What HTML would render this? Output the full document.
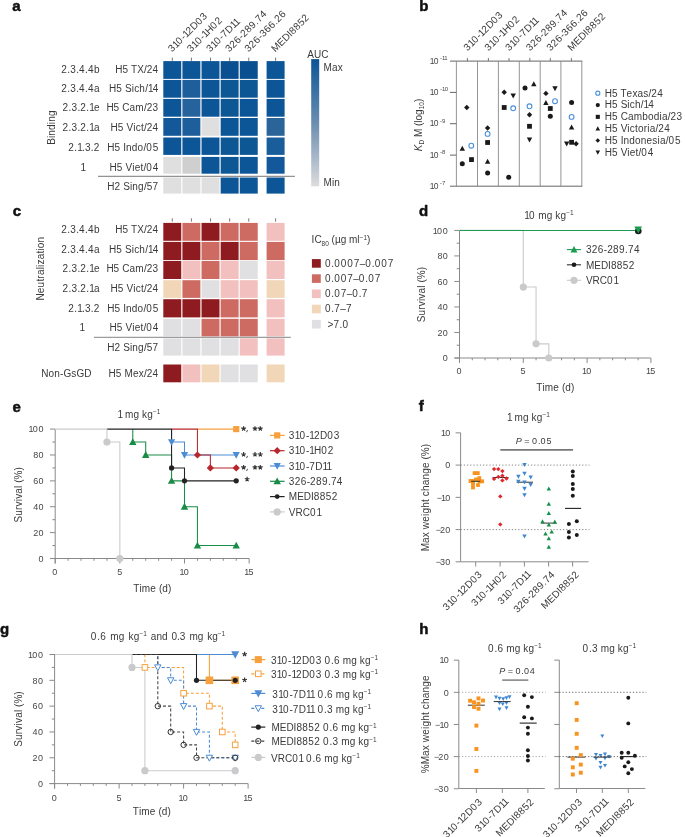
<!DOCTYPE html>
<html><head><meta charset="utf-8"><style>
html,body{margin:0;padding:0;background:#fff;}
svg{display:block;font-family:"Liberation Sans", sans-serif;will-change:transform;}
</style></head><body>
<svg width="685" height="837" viewBox="0 0 685 837">
<rect width="685" height="837" fill="#fff"/>
<text x="0" y="0" font-size="15" text-anchor="start" fill="#111" font-weight="bold" transform="translate(12.30 10.90)" stroke="#111" stroke-width="0.5" stroke-linejoin="round"><tspan letter-spacing="0.30">a</tspan></text>
<text x="0" y="0" font-size="10" text-anchor="start" fill="#3a3a3a" transform="translate(172.00 52.60) rotate(-45)"><tspan letter-spacing="0.40">3</tspan><tspan letter-spacing="-0.85">1</tspan><tspan letter-spacing="0.90">0</tspan>-<tspan letter-spacing="-0.85">1</tspan><tspan letter-spacing="0.40">2</tspan>D<tspan letter-spacing="0.90">0</tspan><tspan letter-spacing="0.40">3</tspan></text>
<line x1="172.30" y1="57.60" x2="172.30" y2="60.90" stroke="#555" stroke-width="0.8" stroke-linecap="butt"/>
<text x="0" y="0" font-size="10" text-anchor="start" fill="#3a3a3a" transform="translate(191.12 52.60) rotate(-45)"><tspan letter-spacing="0.40">3</tspan><tspan letter-spacing="-0.85">1</tspan><tspan letter-spacing="0.90">0</tspan>-<tspan letter-spacing="-0.85">1</tspan>H<tspan letter-spacing="0.90">0</tspan><tspan letter-spacing="0.40">2</tspan></text>
<line x1="191.42" y1="57.60" x2="191.42" y2="60.90" stroke="#555" stroke-width="0.8" stroke-linecap="butt"/>
<text x="0" y="0" font-size="10" text-anchor="start" fill="#3a3a3a" transform="translate(210.24 52.60) rotate(-45)"><tspan letter-spacing="0.40">3</tspan><tspan letter-spacing="-0.85">1</tspan><tspan letter-spacing="0.90">0</tspan>-<tspan letter-spacing="0.40">7</tspan>D<tspan letter-spacing="-0.85">11</tspan></text>
<line x1="210.54" y1="57.60" x2="210.54" y2="60.90" stroke="#555" stroke-width="0.8" stroke-linecap="butt"/>
<text x="0" y="0" font-size="10" text-anchor="start" fill="#3a3a3a" transform="translate(229.36 52.60) rotate(-45)"><tspan letter-spacing="0.40">326</tspan>-<tspan letter-spacing="0.40">289</tspan><tspan letter-spacing="0.20">.</tspan><tspan letter-spacing="0.40">74</tspan></text>
<line x1="229.66" y1="57.60" x2="229.66" y2="60.90" stroke="#555" stroke-width="0.8" stroke-linecap="butt"/>
<text x="0" y="0" font-size="10" text-anchor="start" fill="#3a3a3a" transform="translate(248.48 52.60) rotate(-45)"><tspan letter-spacing="0.40">326</tspan>-<tspan letter-spacing="0.40">366</tspan><tspan letter-spacing="0.20">.</tspan><tspan letter-spacing="0.40">26</tspan></text>
<line x1="248.78" y1="57.60" x2="248.78" y2="60.90" stroke="#555" stroke-width="0.8" stroke-linecap="butt"/>
<text x="0" y="0" font-size="10" text-anchor="start" fill="#3a3a3a" transform="translate(275.30 52.60) rotate(-45)">MEDI<tspan letter-spacing="0.40">8852</tspan></text>
<line x1="275.60" y1="57.60" x2="275.60" y2="60.90" stroke="#555" stroke-width="0.8" stroke-linecap="butt"/>
<rect x="163.30" y="61.10" width="17.95" height="17.80" fill="#0c5596"/>
<rect x="182.42" y="61.10" width="17.95" height="17.80" fill="#0c5596"/>
<rect x="201.54" y="61.10" width="17.95" height="17.80" fill="#0c5596"/>
<rect x="220.66" y="61.10" width="17.95" height="17.80" fill="#0a5090"/>
<rect x="239.78" y="61.10" width="17.95" height="17.80" fill="#0a5090"/>
<rect x="266.60" y="61.10" width="18.00" height="17.80" fill="#0c5596"/>
<rect x="163.30" y="79.90" width="17.95" height="17.80" fill="#0c5596"/>
<rect x="182.42" y="79.90" width="17.95" height="17.80" fill="#1d5e9b"/>
<rect x="201.54" y="79.90" width="17.95" height="17.80" fill="#0c5596"/>
<rect x="220.66" y="79.90" width="17.95" height="17.80" fill="#0e5795"/>
<rect x="239.78" y="79.90" width="17.95" height="17.80" fill="#0e5795"/>
<rect x="266.60" y="79.90" width="18.00" height="17.80" fill="#0c5596"/>
<rect x="163.30" y="98.90" width="17.95" height="17.80" fill="#0c5596"/>
<rect x="182.42" y="98.90" width="17.95" height="17.80" fill="#26629c"/>
<rect x="201.54" y="98.90" width="17.95" height="17.80" fill="#0c5596"/>
<rect x="220.66" y="98.90" width="17.95" height="17.80" fill="#0e5795"/>
<rect x="239.78" y="98.90" width="17.95" height="17.80" fill="#0c5596"/>
<rect x="266.60" y="98.90" width="18.00" height="17.80" fill="#0c5596"/>
<rect x="163.30" y="118.00" width="17.95" height="17.80" fill="#13599a"/>
<rect x="182.42" y="118.00" width="17.95" height="17.80" fill="#1d5e9b"/>
<rect x="201.54" y="118.00" width="17.95" height="17.80" fill="#dfdfe0"/>
<rect x="220.66" y="118.00" width="17.95" height="17.80" fill="#0c5596"/>
<rect x="239.78" y="118.00" width="17.95" height="17.80" fill="#0c5596"/>
<rect x="266.60" y="118.00" width="18.00" height="17.80" fill="#2a6499"/>
<rect x="163.30" y="137.50" width="17.95" height="17.40" fill="#0c5596"/>
<rect x="182.42" y="137.50" width="17.95" height="17.40" fill="#0c5596"/>
<rect x="201.54" y="137.50" width="17.95" height="17.40" fill="#0c5596"/>
<rect x="220.66" y="137.50" width="17.95" height="17.40" fill="#0e5795"/>
<rect x="239.78" y="137.50" width="17.95" height="17.40" fill="#0e5795"/>
<rect x="266.60" y="137.50" width="18.00" height="17.40" fill="#1a5d9b"/>
<rect x="163.30" y="156.90" width="17.95" height="16.80" fill="#dfdfe0"/>
<rect x="182.42" y="156.90" width="17.95" height="16.80" fill="#cfcfd0"/>
<rect x="201.54" y="156.90" width="17.95" height="16.80" fill="#0c5596"/>
<rect x="220.66" y="156.90" width="17.95" height="16.80" fill="#0e5795"/>
<rect x="239.78" y="156.90" width="17.95" height="16.80" fill="#0c5596"/>
<rect x="266.60" y="156.90" width="18.00" height="16.80" fill="#12589a"/>
<rect x="163.30" y="177.50" width="17.95" height="16.10" fill="#dfdfe0"/>
<rect x="182.42" y="177.50" width="17.95" height="16.10" fill="#dfdfe0"/>
<rect x="201.54" y="177.50" width="17.95" height="16.10" fill="#dfdfe0"/>
<rect x="220.66" y="177.50" width="17.95" height="16.10" fill="#0c5596"/>
<rect x="239.78" y="177.50" width="17.95" height="16.10" fill="#0c5596"/>
<rect x="266.60" y="177.50" width="18.00" height="16.10" fill="#0c5596"/>
<line x1="98.00" y1="176.30" x2="294.90" y2="176.30" stroke="#555" stroke-width="0.8" stroke-linecap="butt"/>
<text x="0" y="0" font-size="10" text-anchor="end" fill="#3a3a3a" transform="translate(158.60 72.70)">H<tspan letter-spacing="0.40">5</tspan> TX/<tspan letter-spacing="0.40">24</tspan></text>
<text x="0" y="0" font-size="10" text-anchor="end" fill="#3a3a3a" transform="translate(99.80 72.70)"><tspan letter-spacing="0.40">2</tspan><tspan letter-spacing="0.20">.</tspan><tspan letter-spacing="0.40">3</tspan><tspan letter-spacing="0.20">.</tspan><tspan letter-spacing="0.40">4</tspan><tspan letter-spacing="0.20">.</tspan><tspan letter-spacing="0.40">4</tspan><tspan letter-spacing="0.20">b</tspan></text>
<text x="0" y="0" font-size="10" text-anchor="end" fill="#3a3a3a" transform="translate(158.60 92.30)">H<tspan letter-spacing="0.40">5</tspan> S<tspan letter-spacing="0.20">ich</tspan>/<tspan letter-spacing="-0.85">1</tspan><tspan letter-spacing="0.40">4</tspan></text>
<text x="0" y="0" font-size="10" text-anchor="end" fill="#3a3a3a" transform="translate(99.80 92.30)"><tspan letter-spacing="0.40">2</tspan><tspan letter-spacing="0.20">.</tspan><tspan letter-spacing="0.40">3</tspan><tspan letter-spacing="0.20">.</tspan><tspan letter-spacing="0.40">4</tspan><tspan letter-spacing="0.20">.</tspan><tspan letter-spacing="0.40">4</tspan><tspan letter-spacing="0.20">a</tspan></text>
<text x="0" y="0" font-size="10" text-anchor="end" fill="#3a3a3a" transform="translate(158.60 111.30)">H<tspan letter-spacing="0.40">5</tspan> C<tspan letter-spacing="0.20">am</tspan>/<tspan letter-spacing="0.40">23</tspan></text>
<text x="0" y="0" font-size="10" text-anchor="end" fill="#3a3a3a" transform="translate(99.80 111.30)"><tspan letter-spacing="0.40">2</tspan><tspan letter-spacing="0.20">.</tspan><tspan letter-spacing="0.40">3</tspan><tspan letter-spacing="0.20">.</tspan><tspan letter-spacing="0.40">2</tspan><tspan letter-spacing="0.20">.</tspan><tspan letter-spacing="-0.85">1</tspan><tspan letter-spacing="0.20">e</tspan></text>
<text x="0" y="0" font-size="10" text-anchor="end" fill="#3a3a3a" transform="translate(158.60 131.30)">H<tspan letter-spacing="0.40">5</tspan> V<tspan letter-spacing="0.20">ict</tspan>/<tspan letter-spacing="0.40">24</tspan></text>
<text x="0" y="0" font-size="10" text-anchor="end" fill="#3a3a3a" transform="translate(99.80 131.30)"><tspan letter-spacing="0.40">2</tspan><tspan letter-spacing="0.20">.</tspan><tspan letter-spacing="0.40">3</tspan><tspan letter-spacing="0.20">.</tspan><tspan letter-spacing="0.40">2</tspan><tspan letter-spacing="0.20">.</tspan><tspan letter-spacing="-0.85">1</tspan><tspan letter-spacing="0.20">a</tspan></text>
<text x="0" y="0" font-size="10" text-anchor="end" fill="#3a3a3a" transform="translate(158.60 150.60)">H<tspan letter-spacing="0.40">5</tspan> I<tspan letter-spacing="0.20">ndo</tspan>/<tspan letter-spacing="0.90">0</tspan><tspan letter-spacing="0.40">5</tspan></text>
<text x="0" y="0" font-size="10" text-anchor="end" fill="#3a3a3a" transform="translate(99.80 150.60)"><tspan letter-spacing="0.40">2</tspan><tspan letter-spacing="0.20">.</tspan><tspan letter-spacing="-0.85">1</tspan><tspan letter-spacing="0.20">.</tspan><tspan letter-spacing="0.40">3</tspan><tspan letter-spacing="0.20">.</tspan><tspan letter-spacing="0.40">2</tspan></text>
<text x="0" y="0" font-size="10" text-anchor="end" fill="#3a3a3a" transform="translate(158.60 170.70)">H<tspan letter-spacing="0.40">5</tspan> V<tspan letter-spacing="0.20">iet</tspan>/<tspan letter-spacing="0.90">0</tspan><tspan letter-spacing="0.40">4</tspan></text>
<text x="0" y="0" font-size="10" text-anchor="middle" fill="#3a3a3a" transform="translate(82.80 170.70)"><tspan letter-spacing="-0.85">1</tspan></text>
<text x="0" y="0" font-size="10" text-anchor="end" fill="#3a3a3a" transform="translate(158.60 190.30)">H<tspan letter-spacing="0.40">2</tspan> S<tspan letter-spacing="0.20">ing</tspan>/<tspan letter-spacing="0.40">57</tspan></text>
<text x="0" y="0" font-size="10" text-anchor="middle" fill="#3a3a3a" transform="translate(55.00 127.50) rotate(-90)">B<tspan letter-spacing="0.20">inding</tspan></text>
<defs><linearGradient id="auc" x1="0" y1="0" x2="0" y2="1"><stop offset="0" stop-color="#0b5596"/><stop offset="0.5" stop-color="#6a8db0"/><stop offset="1" stop-color="#dcdcdc"/></linearGradient></defs>
<rect x="311.2" y="59.1" width="8" height="127.2" fill="url(#auc)"/>
<text x="0" y="0" font-size="10" text-anchor="start" fill="#3a3a3a" transform="translate(307.30 57.60)">AUC</text>
<text x="0" y="0" font-size="10" text-anchor="start" fill="#3a3a3a" transform="translate(323.60 71.20)">M<tspan letter-spacing="0.20">ax</tspan></text>
<text x="0" y="0" font-size="10" text-anchor="start" fill="#3a3a3a" transform="translate(323.60 186.30)">M<tspan letter-spacing="0.20">in</tspan></text>
<text x="0" y="0" font-size="15" text-anchor="start" fill="#111" font-weight="bold" transform="translate(419.20 10.80)" stroke="#111" stroke-width="0.5" stroke-linejoin="round"><tspan letter-spacing="0.30">b</tspan></text>
<text x="0" y="0" font-size="10" text-anchor="start" fill="#3a3a3a" transform="translate(467.60 51.40) rotate(-45)"><tspan letter-spacing="0.40">3</tspan><tspan letter-spacing="-0.85">1</tspan><tspan letter-spacing="0.90">0</tspan>-<tspan letter-spacing="-0.85">1</tspan><tspan letter-spacing="0.40">2</tspan>D<tspan letter-spacing="0.90">0</tspan><tspan letter-spacing="0.40">3</tspan></text>
<line x1="467.40" y1="58.00" x2="467.40" y2="61.10" stroke="#555" stroke-width="0.8" stroke-linecap="butt"/>
<text x="0" y="0" font-size="10" text-anchor="start" fill="#3a3a3a" transform="translate(488.60 51.40) rotate(-45)"><tspan letter-spacing="0.40">3</tspan><tspan letter-spacing="-0.85">1</tspan><tspan letter-spacing="0.90">0</tspan>-<tspan letter-spacing="-0.85">1</tspan>H<tspan letter-spacing="0.90">0</tspan><tspan letter-spacing="0.40">2</tspan></text>
<line x1="488.40" y1="58.00" x2="488.40" y2="61.10" stroke="#555" stroke-width="0.8" stroke-linecap="butt"/>
<text x="0" y="0" font-size="10" text-anchor="start" fill="#3a3a3a" transform="translate(509.20 51.40) rotate(-45)"><tspan letter-spacing="0.40">3</tspan><tspan letter-spacing="-0.85">1</tspan><tspan letter-spacing="0.90">0</tspan>-<tspan letter-spacing="0.40">7</tspan>D<tspan letter-spacing="-0.85">11</tspan></text>
<line x1="509.00" y1="58.00" x2="509.00" y2="61.10" stroke="#555" stroke-width="0.8" stroke-linecap="butt"/>
<text x="0" y="0" font-size="10" text-anchor="start" fill="#3a3a3a" transform="translate(530.00 51.40) rotate(-45)"><tspan letter-spacing="0.40">326</tspan>-<tspan letter-spacing="0.40">289</tspan><tspan letter-spacing="0.20">.</tspan><tspan letter-spacing="0.40">74</tspan></text>
<line x1="529.80" y1="58.00" x2="529.80" y2="61.10" stroke="#555" stroke-width="0.8" stroke-linecap="butt"/>
<text x="0" y="0" font-size="10" text-anchor="start" fill="#3a3a3a" transform="translate(550.50 51.40) rotate(-45)"><tspan letter-spacing="0.40">326</tspan>-<tspan letter-spacing="0.40">366</tspan><tspan letter-spacing="0.20">.</tspan><tspan letter-spacing="0.40">26</tspan></text>
<line x1="550.30" y1="58.00" x2="550.30" y2="61.10" stroke="#555" stroke-width="0.8" stroke-linecap="butt"/>
<text x="0" y="0" font-size="10" text-anchor="start" fill="#3a3a3a" transform="translate(571.60 51.40) rotate(-45)">MEDI<tspan letter-spacing="0.40">8852</tspan></text>
<line x1="571.40" y1="58.00" x2="571.40" y2="61.10" stroke="#555" stroke-width="0.8" stroke-linecap="butt"/>
<line x1="450.00" y1="61.10" x2="582.30" y2="61.10" stroke="#666" stroke-width="1" stroke-linecap="butt"/>
<line x1="450.00" y1="186.20" x2="582.30" y2="186.20" stroke="#666" stroke-width="1" stroke-linecap="butt"/>
<line x1="456.40" y1="61.10" x2="456.40" y2="186.20" stroke="#888" stroke-width="0.9" stroke-linecap="butt"/>
<line x1="477.50" y1="61.10" x2="477.50" y2="186.20" stroke="#888" stroke-width="0.9" stroke-linecap="butt"/>
<line x1="498.40" y1="61.10" x2="498.40" y2="186.20" stroke="#888" stroke-width="0.9" stroke-linecap="butt"/>
<line x1="519.30" y1="61.10" x2="519.30" y2="186.20" stroke="#888" stroke-width="0.9" stroke-linecap="butt"/>
<line x1="540.20" y1="61.10" x2="540.20" y2="186.20" stroke="#888" stroke-width="0.9" stroke-linecap="butt"/>
<line x1="560.90" y1="61.10" x2="560.90" y2="186.20" stroke="#888" stroke-width="0.9" stroke-linecap="butt"/>
<line x1="581.80" y1="61.10" x2="581.80" y2="186.20" stroke="#888" stroke-width="0.9" stroke-linecap="butt"/>
<line x1="450.00" y1="92.40" x2="456.40" y2="92.40" stroke="#666" stroke-width="1" stroke-linecap="butt"/>
<line x1="450.00" y1="123.70" x2="456.40" y2="123.70" stroke="#666" stroke-width="1" stroke-linecap="butt"/>
<line x1="450.00" y1="155.10" x2="456.40" y2="155.10" stroke="#666" stroke-width="1" stroke-linecap="butt"/>
<text x="0" y="0" font-size="8.5" text-anchor="end" fill="#474747" transform="translate(439.30 63.60)"><tspan letter-spacing="-0.72">1</tspan><tspan letter-spacing="0.77">0</tspan></text>
<text x="0" y="0" font-size="6" text-anchor="start" fill="#474747" transform="translate(439.90 60.10)">-<tspan letter-spacing="-0.51">11</tspan></text>
<text x="0" y="0" font-size="8.5" text-anchor="end" fill="#474747" transform="translate(439.30 94.90)"><tspan letter-spacing="-0.72">1</tspan><tspan letter-spacing="0.77">0</tspan></text>
<text x="0" y="0" font-size="6" text-anchor="start" fill="#474747" transform="translate(439.90 91.40)">-<tspan letter-spacing="-0.51">1</tspan><tspan letter-spacing="0.54">0</tspan></text>
<text x="0" y="0" font-size="8.5" text-anchor="end" fill="#474747" transform="translate(439.30 126.20)"><tspan letter-spacing="-0.72">1</tspan><tspan letter-spacing="0.77">0</tspan></text>
<text x="0" y="0" font-size="6" text-anchor="start" fill="#474747" transform="translate(439.90 122.70)">-<tspan letter-spacing="0.24">9</tspan></text>
<text x="0" y="0" font-size="8.5" text-anchor="end" fill="#474747" transform="translate(439.30 157.60)"><tspan letter-spacing="-0.72">1</tspan><tspan letter-spacing="0.77">0</tspan></text>
<text x="0" y="0" font-size="6" text-anchor="start" fill="#474747" transform="translate(439.90 154.10)">-<tspan letter-spacing="0.24">8</tspan></text>
<text x="0" y="0" font-size="8.5" text-anchor="end" fill="#474747" transform="translate(439.30 188.70)"><tspan letter-spacing="-0.72">1</tspan><tspan letter-spacing="0.77">0</tspan></text>
<text x="0" y="0" font-size="6" text-anchor="start" fill="#474747" transform="translate(439.90 185.20)">-<tspan letter-spacing="0.24">7</tspan></text>
<text x="0" y="0" font-size="10" text-anchor="middle" fill="#3a3a3a" transform="translate(422.30 125.00) rotate(-90)"><tspan font-style="italic">K</tspan><tspan font-size="6.5" dy="2">D</tspan><tspan dy="-2"> M (log</tspan><tspan font-size="6.5" dy="2">10</tspan><tspan dy="-2">)</tspan></text>
<polygon points="466.80,104.80 469.50,107.50 466.80,110.20 464.10,107.50" fill="#1a1a1a"/>
<polygon points="462.30,145.76 465.00,150.76 459.60,150.76" fill="#1a1a1a"/>
<circle cx="471.30" cy="145.70" r="2.40" fill="none" stroke="#4a90d9" stroke-width="1.1"/>
<circle cx="462.30" cy="163.70" r="2.50" fill="#1a1a1a"/>
<rect x="469.10" y="157.20" width="4.80" height="4.80" fill="#1a1a1a"/>
<polygon points="487.60,125.30 490.30,128.00 487.60,130.70 484.90,128.00" fill="#1a1a1a"/>
<circle cx="487.60" cy="133.90" r="2.40" fill="none" stroke="#4a90d9" stroke-width="1.1"/>
<rect x="485.20" y="140.10" width="4.80" height="4.80" fill="#1a1a1a"/>
<polygon points="487.60,158.66 490.30,163.66 484.90,163.66" fill="#1a1a1a"/>
<circle cx="487.60" cy="172.90" r="2.50" fill="#1a1a1a"/>
<polygon points="504.20,89.50 506.90,92.20 504.20,94.90 501.50,92.20" fill="#1a1a1a"/>
<polygon points="510.50,93.54 515.90,93.54 513.20,98.53" fill="#1a1a1a"/>
<rect x="501.80" y="105.10" width="4.80" height="4.80" fill="#1a1a1a"/>
<circle cx="513.20" cy="108.30" r="2.40" fill="none" stroke="#4a90d9" stroke-width="1.1"/>
<circle cx="508.70" cy="177.20" r="2.50" fill="#1a1a1a"/>
<circle cx="525.00" cy="88.10" r="2.50" fill="#1a1a1a"/>
<polygon points="533.80,81.37 536.50,86.36 531.10,86.36" fill="#1a1a1a"/>
<circle cx="529.50" cy="106.30" r="2.40" fill="none" stroke="#4a90d9" stroke-width="1.1"/>
<polygon points="529.50,112.00 532.20,114.70 529.50,117.40 526.80,114.70" fill="#1a1a1a"/>
<rect x="527.10" y="123.90" width="4.80" height="4.80" fill="#1a1a1a"/>
<polygon points="526.80,137.44 532.20,137.44 529.50,142.44" fill="#1a1a1a"/>
<polygon points="545.90,90.70 548.60,93.40 545.90,96.10 543.20,93.40" fill="#1a1a1a"/>
<polygon points="552.30,86.14 557.70,86.14 555.00,91.13" fill="#1a1a1a"/>
<polygon points="545.90,99.97 548.60,104.96 543.20,104.96" fill="#1a1a1a"/>
<circle cx="555.00" cy="101.20" r="2.40" fill="none" stroke="#4a90d9" stroke-width="1.1"/>
<rect x="547.90" y="106.10" width="4.80" height="4.80" fill="#1a1a1a"/>
<circle cx="550.30" cy="116.30" r="2.50" fill="#1a1a1a"/>
<circle cx="571.60" cy="102.60" r="2.50" fill="#1a1a1a"/>
<circle cx="571.60" cy="116.90" r="2.40" fill="none" stroke="#4a90d9" stroke-width="1.1"/>
<polygon points="571.60,124.47 574.30,129.46 568.90,129.46" fill="#1a1a1a"/>
<polygon points="564.00,141.54 569.40,141.54 566.70,146.53" fill="#1a1a1a"/>
<polygon points="576.10,141.00 578.80,143.70 576.10,146.40 573.40,143.70" fill="#1a1a1a"/>
<rect x="569.20" y="139.90" width="4.80" height="4.80" fill="#1a1a1a"/>
<circle cx="597.80" cy="93.20" r="2.04" fill="none" stroke="#4a90d9" stroke-width="1.1"/>
<text x="0" y="0" font-size="10" text-anchor="start" fill="#3a3a3a" transform="translate(604.70 96.50)">H<tspan letter-spacing="0.40">5</tspan> T<tspan letter-spacing="0.20">exas</tspan>/<tspan letter-spacing="0.40">24</tspan></text>
<circle cx="597.80" cy="105.02" r="2.12" fill="#1a1a1a"/>
<text x="0" y="0" font-size="10" text-anchor="start" fill="#3a3a3a" transform="translate(604.70 108.32)">H<tspan letter-spacing="0.40">5</tspan> S<tspan letter-spacing="0.20">ich</tspan>/<tspan letter-spacing="-0.85">1</tspan><tspan letter-spacing="0.40">4</tspan></text>
<rect x="595.76" y="114.80" width="4.08" height="4.08" fill="#1a1a1a"/>
<text x="0" y="0" font-size="10" text-anchor="start" fill="#3a3a3a" transform="translate(604.70 120.14)">H<tspan letter-spacing="0.40">5</tspan> C<tspan letter-spacing="0.20">ambodia</tspan>/<tspan letter-spacing="0.40">23</tspan></text>
<polygon points="597.80,126.25 600.09,130.50 595.50,130.50" fill="#1a1a1a"/>
<text x="0" y="0" font-size="10" text-anchor="start" fill="#3a3a3a" transform="translate(604.70 131.96)">H<tspan letter-spacing="0.40">5</tspan> V<tspan letter-spacing="0.20">ictoria</tspan>/<tspan letter-spacing="0.40">24</tspan></text>
<polygon points="597.80,138.19 600.09,140.48 597.80,142.77 595.50,140.48" fill="#1a1a1a"/>
<text x="0" y="0" font-size="10" text-anchor="start" fill="#3a3a3a" transform="translate(604.70 143.78)">H<tspan letter-spacing="0.40">5</tspan> I<tspan letter-spacing="0.20">ndonesia</tspan>/<tspan letter-spacing="0.90">0</tspan><tspan letter-spacing="0.40">5</tspan></text>
<polygon points="595.50,150.46 600.09,150.46 597.80,154.71" fill="#1a1a1a"/>
<text x="0" y="0" font-size="10" text-anchor="start" fill="#3a3a3a" transform="translate(604.70 155.60)">H<tspan letter-spacing="0.40">5</tspan> V<tspan letter-spacing="0.20">iet</tspan>/<tspan letter-spacing="0.90">0</tspan><tspan letter-spacing="0.40">4</tspan></text>
<text x="0" y="0" font-size="15" text-anchor="start" fill="#111" font-weight="bold" transform="translate(12.70 216.10)" stroke="#111" stroke-width="0.5" stroke-linejoin="round"><tspan letter-spacing="0.30">c</tspan></text>
<line x1="172.30" y1="218.30" x2="172.30" y2="221.60" stroke="#555" stroke-width="0.8" stroke-linecap="butt"/>
<line x1="191.42" y1="218.30" x2="191.42" y2="221.60" stroke="#555" stroke-width="0.8" stroke-linecap="butt"/>
<line x1="210.54" y1="218.30" x2="210.54" y2="221.60" stroke="#555" stroke-width="0.8" stroke-linecap="butt"/>
<line x1="229.66" y1="218.30" x2="229.66" y2="221.60" stroke="#555" stroke-width="0.8" stroke-linecap="butt"/>
<line x1="248.78" y1="218.30" x2="248.78" y2="221.60" stroke="#555" stroke-width="0.8" stroke-linecap="butt"/>
<line x1="275.60" y1="218.30" x2="275.60" y2="221.60" stroke="#555" stroke-width="0.8" stroke-linecap="butt"/>
<rect x="163.30" y="222.90" width="17.95" height="17.90" fill="#8e1b1f"/>
<rect x="182.42" y="222.90" width="17.95" height="17.90" fill="#cd6b63"/>
<rect x="201.54" y="222.90" width="17.95" height="17.90" fill="#8e1b1f"/>
<rect x="220.66" y="222.90" width="17.95" height="17.90" fill="#cd6b63"/>
<rect x="239.78" y="222.90" width="17.95" height="17.90" fill="#cd6b63"/>
<rect x="266.60" y="222.90" width="18.00" height="17.90" fill="#f2c0be"/>
<rect x="163.30" y="241.90" width="17.95" height="18.20" fill="#8e1b1f"/>
<rect x="182.42" y="241.90" width="17.95" height="18.20" fill="#8e1b1f"/>
<rect x="201.54" y="241.90" width="17.95" height="18.20" fill="#cd6b63"/>
<rect x="220.66" y="241.90" width="17.95" height="18.20" fill="#8e1b1f"/>
<rect x="239.78" y="241.90" width="17.95" height="18.20" fill="#cd6b63"/>
<rect x="266.60" y="241.90" width="18.00" height="18.20" fill="#cd6b63"/>
<rect x="163.30" y="261.00" width="17.95" height="18.00" fill="#8e1b1f"/>
<rect x="182.42" y="261.00" width="17.95" height="18.00" fill="#f2c0be"/>
<rect x="201.54" y="261.00" width="17.95" height="18.00" fill="#cd6b63"/>
<rect x="220.66" y="261.00" width="17.95" height="18.00" fill="#f2c0be"/>
<rect x="239.78" y="261.00" width="17.95" height="18.00" fill="#e0e0e2"/>
<rect x="266.60" y="261.00" width="18.00" height="18.00" fill="#f2c0be"/>
<rect x="163.30" y="280.20" width="17.95" height="17.70" fill="#f1d6b7"/>
<rect x="182.42" y="280.20" width="17.95" height="17.70" fill="#cd6b63"/>
<rect x="201.54" y="280.20" width="17.95" height="17.70" fill="#e0e0e2"/>
<rect x="220.66" y="280.20" width="17.95" height="17.70" fill="#f2c0be"/>
<rect x="239.78" y="280.20" width="17.95" height="17.70" fill="#f2c0be"/>
<rect x="266.60" y="280.20" width="18.00" height="17.70" fill="#f1d6b7"/>
<rect x="163.30" y="299.20" width="17.95" height="18.20" fill="#8e1b1f"/>
<rect x="182.42" y="299.20" width="17.95" height="18.20" fill="#8e1b1f"/>
<rect x="201.54" y="299.20" width="17.95" height="18.20" fill="#8e1b1f"/>
<rect x="220.66" y="299.20" width="17.95" height="18.20" fill="#cd6b63"/>
<rect x="239.78" y="299.20" width="17.95" height="18.20" fill="#cd6b63"/>
<rect x="266.60" y="299.20" width="18.00" height="18.20" fill="#f2c0be"/>
<rect x="163.30" y="318.80" width="17.95" height="17.60" fill="#e0e0e2"/>
<rect x="182.42" y="318.80" width="17.95" height="17.60" fill="#e0e0e2"/>
<rect x="201.54" y="318.80" width="17.95" height="17.60" fill="#cd6b63"/>
<rect x="220.66" y="318.80" width="17.95" height="17.60" fill="#cd6b63"/>
<rect x="239.78" y="318.80" width="17.95" height="17.60" fill="#cd6b63"/>
<rect x="266.60" y="318.80" width="18.00" height="17.60" fill="#f2c0be"/>
<rect x="163.30" y="338.30" width="17.95" height="17.30" fill="#e0e0e2"/>
<rect x="182.42" y="338.30" width="17.95" height="17.30" fill="#e0e0e2"/>
<rect x="201.54" y="338.30" width="17.95" height="17.30" fill="#e0e0e2"/>
<rect x="220.66" y="338.30" width="17.95" height="17.30" fill="#e0e0e2"/>
<rect x="239.78" y="338.30" width="17.95" height="17.30" fill="#f2c0be"/>
<rect x="266.60" y="338.30" width="18.00" height="17.30" fill="#f2c0be"/>
<rect x="163.30" y="364.50" width="17.95" height="17.80" fill="#8e1b1f"/>
<rect x="182.42" y="364.50" width="17.95" height="17.80" fill="#f2c0be"/>
<rect x="201.54" y="364.50" width="17.95" height="17.80" fill="#f1d6b7"/>
<rect x="220.66" y="364.50" width="17.95" height="17.80" fill="#e0e0e2"/>
<rect x="239.78" y="364.50" width="17.95" height="17.80" fill="#e0e0e2"/>
<rect x="266.60" y="364.50" width="18.00" height="17.80" fill="#f1d6b7"/>
<line x1="94.00" y1="337.30" x2="290.80" y2="337.30" stroke="#666" stroke-width="0.8" stroke-linecap="butt"/>
<text x="0" y="0" font-size="10" text-anchor="end" fill="#3a3a3a" transform="translate(158.60 232.80)">H<tspan letter-spacing="0.40">5</tspan> TX/<tspan letter-spacing="0.40">24</tspan></text>
<text x="0" y="0" font-size="10" text-anchor="end" fill="#3a3a3a" transform="translate(99.80 232.80)"><tspan letter-spacing="0.40">2</tspan><tspan letter-spacing="0.20">.</tspan><tspan letter-spacing="0.40">3</tspan><tspan letter-spacing="0.20">.</tspan><tspan letter-spacing="0.40">4</tspan><tspan letter-spacing="0.20">.</tspan><tspan letter-spacing="0.40">4</tspan><tspan letter-spacing="0.20">b</tspan></text>
<text x="0" y="0" font-size="10" text-anchor="end" fill="#3a3a3a" transform="translate(158.60 252.50)">H<tspan letter-spacing="0.40">5</tspan> S<tspan letter-spacing="0.20">ich</tspan>/<tspan letter-spacing="-0.85">1</tspan><tspan letter-spacing="0.40">4</tspan></text>
<text x="0" y="0" font-size="10" text-anchor="end" fill="#3a3a3a" transform="translate(99.80 252.50)"><tspan letter-spacing="0.40">2</tspan><tspan letter-spacing="0.20">.</tspan><tspan letter-spacing="0.40">3</tspan><tspan letter-spacing="0.20">.</tspan><tspan letter-spacing="0.40">4</tspan><tspan letter-spacing="0.20">.</tspan><tspan letter-spacing="0.40">4</tspan><tspan letter-spacing="0.20">a</tspan></text>
<text x="0" y="0" font-size="10" text-anchor="end" fill="#3a3a3a" transform="translate(158.60 272.40)">H<tspan letter-spacing="0.40">5</tspan> C<tspan letter-spacing="0.20">am</tspan>/<tspan letter-spacing="0.40">23</tspan></text>
<text x="0" y="0" font-size="10" text-anchor="end" fill="#3a3a3a" transform="translate(99.80 272.40)"><tspan letter-spacing="0.40">2</tspan><tspan letter-spacing="0.20">.</tspan><tspan letter-spacing="0.40">3</tspan><tspan letter-spacing="0.20">.</tspan><tspan letter-spacing="0.40">2</tspan><tspan letter-spacing="0.20">.</tspan><tspan letter-spacing="-0.85">1</tspan><tspan letter-spacing="0.20">e</tspan></text>
<text x="0" y="0" font-size="10" text-anchor="end" fill="#3a3a3a" transform="translate(158.60 291.80)">H<tspan letter-spacing="0.40">5</tspan> V<tspan letter-spacing="0.20">ict</tspan>/<tspan letter-spacing="0.40">24</tspan></text>
<text x="0" y="0" font-size="10" text-anchor="end" fill="#3a3a3a" transform="translate(99.80 291.80)"><tspan letter-spacing="0.40">2</tspan><tspan letter-spacing="0.20">.</tspan><tspan letter-spacing="0.40">3</tspan><tspan letter-spacing="0.20">.</tspan><tspan letter-spacing="0.40">2</tspan><tspan letter-spacing="0.20">.</tspan><tspan letter-spacing="-0.85">1</tspan><tspan letter-spacing="0.20">a</tspan></text>
<text x="0" y="0" font-size="10" text-anchor="end" fill="#3a3a3a" transform="translate(158.60 311.50)">H<tspan letter-spacing="0.40">5</tspan> I<tspan letter-spacing="0.20">ndo</tspan>/<tspan letter-spacing="0.90">0</tspan><tspan letter-spacing="0.40">5</tspan></text>
<text x="0" y="0" font-size="10" text-anchor="end" fill="#3a3a3a" transform="translate(99.80 311.50)"><tspan letter-spacing="0.40">2</tspan><tspan letter-spacing="0.20">.</tspan><tspan letter-spacing="-0.85">1</tspan><tspan letter-spacing="0.20">.</tspan><tspan letter-spacing="0.40">3</tspan><tspan letter-spacing="0.20">.</tspan><tspan letter-spacing="0.40">2</tspan></text>
<text x="0" y="0" font-size="10" text-anchor="end" fill="#3a3a3a" transform="translate(158.60 331.00)">H<tspan letter-spacing="0.40">5</tspan> V<tspan letter-spacing="0.20">iet</tspan>/<tspan letter-spacing="0.90">0</tspan><tspan letter-spacing="0.40">4</tspan></text>
<text x="0" y="0" font-size="10" text-anchor="middle" fill="#3a3a3a" transform="translate(81.80 331.00)"><tspan letter-spacing="-0.85">1</tspan></text>
<text x="0" y="0" font-size="10" text-anchor="end" fill="#3a3a3a" transform="translate(158.60 350.60)">H<tspan letter-spacing="0.40">2</tspan> S<tspan letter-spacing="0.20">ing</tspan>/<tspan letter-spacing="0.40">57</tspan></text>
<text x="0" y="0" font-size="10" text-anchor="end" fill="#3a3a3a" transform="translate(158.60 377.20)">H<tspan letter-spacing="0.40">5</tspan> M<tspan letter-spacing="0.20">ex</tspan>/<tspan letter-spacing="0.40">24</tspan></text>
<text x="0" y="0" font-size="10" text-anchor="end" fill="#3a3a3a" transform="translate(91.40 377.20)">N<tspan letter-spacing="0.20">on</tspan>-G<tspan letter-spacing="0.20">s</tspan>GD</text>
<text x="0" y="0" font-size="10" text-anchor="middle" fill="#3a3a3a" transform="translate(44.00 268.50) rotate(-90)">N<tspan letter-spacing="0.20">eutralization</tspan></text>
<text x="0" y="0" font-size="10" text-anchor="start" fill="#3a3a3a" transform="translate(311.60 243.40)">IC<tspan font-size="6.5" dy="2.2">80</tspan><tspan dy="-2.2"> (µg ml</tspan><tspan dy="-3.8" font-size="6.5">−1</tspan><tspan dy="3.8">)</tspan></text>
<rect x="311.90" y="259.10" width="8.90" height="8.60" fill="#8e1b1f"/>
<text x="0" y="0" font-size="10" text-anchor="start" fill="#3a3a3a" transform="translate(324.90 266.70)"><tspan letter-spacing="0.90">0</tspan><tspan letter-spacing="0.20">.</tspan><tspan letter-spacing="0.90">000</tspan><tspan letter-spacing="0.40">7</tspan>–<tspan letter-spacing="0.90">0</tspan><tspan letter-spacing="0.20">.</tspan><tspan letter-spacing="0.90">00</tspan><tspan letter-spacing="0.40">7</tspan></text>
<rect x="311.90" y="274.30" width="8.90" height="8.60" fill="#cd6b63"/>
<text x="0" y="0" font-size="10" text-anchor="start" fill="#3a3a3a" transform="translate(324.90 281.90)"><tspan letter-spacing="0.90">0</tspan><tspan letter-spacing="0.20">.</tspan><tspan letter-spacing="0.90">00</tspan><tspan letter-spacing="0.40">7</tspan>–<tspan letter-spacing="0.90">0</tspan><tspan letter-spacing="0.20">.</tspan><tspan letter-spacing="0.90">0</tspan><tspan letter-spacing="0.40">7</tspan></text>
<rect x="311.90" y="289.50" width="8.90" height="8.60" fill="#f2c0be"/>
<text x="0" y="0" font-size="10" text-anchor="start" fill="#3a3a3a" transform="translate(324.90 297.10)"><tspan letter-spacing="0.90">0</tspan><tspan letter-spacing="0.20">.</tspan><tspan letter-spacing="0.90">0</tspan><tspan letter-spacing="0.40">7</tspan>–<tspan letter-spacing="0.90">0</tspan><tspan letter-spacing="0.20">.</tspan><tspan letter-spacing="0.40">7</tspan></text>
<rect x="311.90" y="304.70" width="8.90" height="8.60" fill="#f1d6b7"/>
<text x="0" y="0" font-size="10" text-anchor="start" fill="#3a3a3a" transform="translate(324.90 312.30)"><tspan letter-spacing="0.90">0</tspan><tspan letter-spacing="0.20">.</tspan><tspan letter-spacing="0.40">7</tspan>–<tspan letter-spacing="0.40">7</tspan></text>
<rect x="311.90" y="319.90" width="8.90" height="8.60" fill="#e0e0e2"/>
<text x="0" y="0" font-size="10" text-anchor="start" fill="#3a3a3a" transform="translate(327.60 327.50)">&gt;<tspan letter-spacing="0.40">7</tspan><tspan letter-spacing="0.20">.</tspan><tspan letter-spacing="0.90">0</tspan></text>
<text x="0" y="0" font-size="15" text-anchor="start" fill="#111" font-weight="bold" transform="translate(419.10 215.90)" stroke="#111" stroke-width="0.5" stroke-linejoin="round"><tspan letter-spacing="0.30">d</tspan></text>
<text x="0" y="0" font-size="10" text-anchor="middle" fill="#3a3a3a" transform="translate(549.00 218.50)"><tspan letter-spacing="-0.85">1</tspan><tspan letter-spacing="0.90">0</tspan> <tspan letter-spacing="0.20">mg</tspan> <tspan letter-spacing="0.20">kg</tspan><tspan dy="-3.8" font-size="6.5">−1</tspan></text>
<line x1="459.50" y1="230.40" x2="459.50" y2="363.00" stroke="#8a8a8a" stroke-width="1" stroke-linecap="butt"/>
<line x1="454.50" y1="358.00" x2="650.90" y2="358.00" stroke="#8a8a8a" stroke-width="1" stroke-linecap="butt"/>
<line x1="454.30" y1="358.00" x2="459.50" y2="358.00" stroke="#8a8a8a" stroke-width="1" stroke-linecap="butt"/>
<text x="0" y="0" font-size="9.0" text-anchor="end" fill="#474747" transform="translate(448.60 361.20)"><tspan letter-spacing="0.81">0</tspan></text>
<line x1="456.70" y1="345.24" x2="459.50" y2="345.24" stroke="#8a8a8a" stroke-width="1" stroke-linecap="butt"/>
<line x1="454.30" y1="332.48" x2="459.50" y2="332.48" stroke="#8a8a8a" stroke-width="1" stroke-linecap="butt"/>
<text x="0" y="0" font-size="9.0" text-anchor="end" fill="#474747" transform="translate(448.60 335.68)"><tspan letter-spacing="0.36">2</tspan><tspan letter-spacing="0.81">0</tspan></text>
<line x1="456.70" y1="319.72" x2="459.50" y2="319.72" stroke="#8a8a8a" stroke-width="1" stroke-linecap="butt"/>
<line x1="454.30" y1="306.96" x2="459.50" y2="306.96" stroke="#8a8a8a" stroke-width="1" stroke-linecap="butt"/>
<text x="0" y="0" font-size="9.0" text-anchor="end" fill="#474747" transform="translate(448.60 310.16)"><tspan letter-spacing="0.36">4</tspan><tspan letter-spacing="0.81">0</tspan></text>
<line x1="456.70" y1="294.20" x2="459.50" y2="294.20" stroke="#8a8a8a" stroke-width="1" stroke-linecap="butt"/>
<line x1="454.30" y1="281.44" x2="459.50" y2="281.44" stroke="#8a8a8a" stroke-width="1" stroke-linecap="butt"/>
<text x="0" y="0" font-size="9.0" text-anchor="end" fill="#474747" transform="translate(448.60 284.64)"><tspan letter-spacing="0.36">6</tspan><tspan letter-spacing="0.81">0</tspan></text>
<line x1="456.70" y1="268.68" x2="459.50" y2="268.68" stroke="#8a8a8a" stroke-width="1" stroke-linecap="butt"/>
<line x1="454.30" y1="255.92" x2="459.50" y2="255.92" stroke="#8a8a8a" stroke-width="1" stroke-linecap="butt"/>
<text x="0" y="0" font-size="9.0" text-anchor="end" fill="#474747" transform="translate(448.60 259.12)"><tspan letter-spacing="0.36">8</tspan><tspan letter-spacing="0.81">0</tspan></text>
<line x1="456.70" y1="243.16" x2="459.50" y2="243.16" stroke="#8a8a8a" stroke-width="1" stroke-linecap="butt"/>
<line x1="454.30" y1="230.40" x2="459.50" y2="230.40" stroke="#8a8a8a" stroke-width="1" stroke-linecap="butt"/>
<text x="0" y="0" font-size="9.0" text-anchor="end" fill="#474747" transform="translate(448.60 233.60)"><tspan letter-spacing="-0.77">1</tspan><tspan letter-spacing="0.81">00</tspan></text>
<line x1="459.50" y1="358.00" x2="459.50" y2="363.00" stroke="#8a8a8a" stroke-width="1" stroke-linecap="butt"/>
<text x="0" y="0" font-size="9.0" text-anchor="middle" fill="#474747" transform="translate(459.50 374.10)"><tspan letter-spacing="0.81">0</tspan></text>
<line x1="472.26" y1="358.00" x2="472.26" y2="360.30" stroke="#8a8a8a" stroke-width="1" stroke-linecap="butt"/>
<line x1="485.02" y1="358.00" x2="485.02" y2="360.30" stroke="#8a8a8a" stroke-width="1" stroke-linecap="butt"/>
<line x1="497.78" y1="358.00" x2="497.78" y2="360.30" stroke="#8a8a8a" stroke-width="1" stroke-linecap="butt"/>
<line x1="510.54" y1="358.00" x2="510.54" y2="360.30" stroke="#8a8a8a" stroke-width="1" stroke-linecap="butt"/>
<line x1="523.30" y1="358.00" x2="523.30" y2="363.00" stroke="#8a8a8a" stroke-width="1" stroke-linecap="butt"/>
<text x="0" y="0" font-size="9.0" text-anchor="middle" fill="#474747" transform="translate(523.30 374.10)"><tspan letter-spacing="0.36">5</tspan></text>
<line x1="536.06" y1="358.00" x2="536.06" y2="360.30" stroke="#8a8a8a" stroke-width="1" stroke-linecap="butt"/>
<line x1="548.82" y1="358.00" x2="548.82" y2="360.30" stroke="#8a8a8a" stroke-width="1" stroke-linecap="butt"/>
<line x1="561.58" y1="358.00" x2="561.58" y2="360.30" stroke="#8a8a8a" stroke-width="1" stroke-linecap="butt"/>
<line x1="574.34" y1="358.00" x2="574.34" y2="360.30" stroke="#8a8a8a" stroke-width="1" stroke-linecap="butt"/>
<line x1="587.10" y1="358.00" x2="587.10" y2="363.00" stroke="#8a8a8a" stroke-width="1" stroke-linecap="butt"/>
<text x="0" y="0" font-size="9.0" text-anchor="middle" fill="#474747" transform="translate(587.10 374.10)"><tspan letter-spacing="-0.77">1</tspan><tspan letter-spacing="0.81">0</tspan></text>
<line x1="599.86" y1="358.00" x2="599.86" y2="360.30" stroke="#8a8a8a" stroke-width="1" stroke-linecap="butt"/>
<line x1="612.62" y1="358.00" x2="612.62" y2="360.30" stroke="#8a8a8a" stroke-width="1" stroke-linecap="butt"/>
<line x1="625.38" y1="358.00" x2="625.38" y2="360.30" stroke="#8a8a8a" stroke-width="1" stroke-linecap="butt"/>
<line x1="638.14" y1="358.00" x2="638.14" y2="360.30" stroke="#8a8a8a" stroke-width="1" stroke-linecap="butt"/>
<line x1="650.90" y1="358.00" x2="650.90" y2="363.00" stroke="#8a8a8a" stroke-width="1" stroke-linecap="butt"/>
<text x="0" y="0" font-size="9.0" text-anchor="middle" fill="#474747" transform="translate(650.90 374.10)"><tspan letter-spacing="-0.77">1</tspan><tspan letter-spacing="0.36">5</tspan></text>
<text x="0" y="0" font-size="10" text-anchor="middle" fill="#3a3a3a" transform="translate(555.30 390.50)">T<tspan letter-spacing="0.20">ime</tspan> (<tspan letter-spacing="0.20">d</tspan>)</text>
<text x="0" y="0" font-size="10" text-anchor="middle" fill="#3a3a3a" transform="translate(424.60 294.60) rotate(-90)">S<tspan letter-spacing="0.20">urvival</tspan> (%)</text>
<path d="M459.50,230.40 H523.30 V287.05 H536.06 V343.84 H548.82 V358.00 H548.82" fill="none" stroke="#c9cacc" stroke-width="1.1"/>
<circle cx="523.30" cy="287.05" r="3.60" fill="#c9cacc"/>
<circle cx="536.06" cy="343.84" r="3.60" fill="#c9cacc"/>
<circle cx="548.82" cy="358.00" r="3.60" fill="#c9cacc"/>
<line x1="459.50" y1="230.50" x2="638.40" y2="230.50" stroke="#1b9a50" stroke-width="1.1" stroke-linecap="butt"/>
<circle cx="638.30" cy="231.00" r="3.30" fill="#1a1a1a"/>
<polygon points="634.3,226.6 642.0,226.6 638.3,233.6" fill="#1b9a50"/>
<line x1="566.90" y1="249.60" x2="581.00" y2="249.60" stroke="#1b9a50" stroke-width="1.1" stroke-linecap="butt"/>
<polygon points="574.00,245.92 577.50,252.40 570.50,252.40" fill="#1b9a50"/>
<line x1="566.90" y1="264.80" x2="581.00" y2="264.80" stroke="#333" stroke-width="1.1" stroke-linecap="butt"/>
<circle cx="574.00" cy="264.80" r="2.30" fill="#1a1a1a"/>
<line x1="566.90" y1="280.30" x2="581.00" y2="280.30" stroke="#c9cacc" stroke-width="1.1" stroke-linecap="butt"/>
<circle cx="574.00" cy="280.30" r="3.60" fill="#c9cacc"/>
<text x="0" y="0" font-size="10" text-anchor="start" fill="#3a3a3a" transform="translate(585.90 253.30)"><tspan letter-spacing="0.40">326</tspan>-<tspan letter-spacing="0.40">289</tspan><tspan letter-spacing="0.20">.</tspan><tspan letter-spacing="0.40">74</tspan></text>
<text x="0" y="0" font-size="10" text-anchor="start" fill="#3a3a3a" transform="translate(585.90 268.50)">MEDI<tspan letter-spacing="0.40">8852</tspan></text>
<text x="0" y="0" font-size="10" text-anchor="start" fill="#3a3a3a" transform="translate(585.90 284.00)">VRC<tspan letter-spacing="0.90">0</tspan><tspan letter-spacing="-0.85">1</tspan></text>
<text x="0" y="0" font-size="15" text-anchor="start" fill="#111" font-weight="bold" transform="translate(12.40 411.80)" stroke="#111" stroke-width="0.5" stroke-linejoin="round"><tspan letter-spacing="0.30">e</tspan></text>
<text x="0" y="0" font-size="10" text-anchor="middle" fill="#3a3a3a" transform="translate(139.00 417.50)"><tspan letter-spacing="-0.85">1</tspan> <tspan letter-spacing="0.20">mg</tspan> <tspan letter-spacing="0.20">kg</tspan><tspan dy="-3.8" font-size="6.5">−1</tspan></text>
<line x1="55.20" y1="429.10" x2="55.20" y2="563.50" stroke="#8a8a8a" stroke-width="1" stroke-linecap="butt"/>
<line x1="50.20" y1="558.50" x2="249.15" y2="558.50" stroke="#8a8a8a" stroke-width="1" stroke-linecap="butt"/>
<line x1="50.00" y1="558.50" x2="55.20" y2="558.50" stroke="#8a8a8a" stroke-width="1" stroke-linecap="butt"/>
<text x="0" y="0" font-size="9.0" text-anchor="end" fill="#474747" transform="translate(44.40 561.70)"><tspan letter-spacing="0.81">0</tspan></text>
<line x1="52.40" y1="545.56" x2="55.20" y2="545.56" stroke="#8a8a8a" stroke-width="1" stroke-linecap="butt"/>
<line x1="50.00" y1="532.62" x2="55.20" y2="532.62" stroke="#8a8a8a" stroke-width="1" stroke-linecap="butt"/>
<text x="0" y="0" font-size="9.0" text-anchor="end" fill="#474747" transform="translate(44.40 535.82)"><tspan letter-spacing="0.36">2</tspan><tspan letter-spacing="0.81">0</tspan></text>
<line x1="52.40" y1="519.68" x2="55.20" y2="519.68" stroke="#8a8a8a" stroke-width="1" stroke-linecap="butt"/>
<line x1="50.00" y1="506.74" x2="55.20" y2="506.74" stroke="#8a8a8a" stroke-width="1" stroke-linecap="butt"/>
<text x="0" y="0" font-size="9.0" text-anchor="end" fill="#474747" transform="translate(44.40 509.94)"><tspan letter-spacing="0.36">4</tspan><tspan letter-spacing="0.81">0</tspan></text>
<line x1="52.40" y1="493.80" x2="55.20" y2="493.80" stroke="#8a8a8a" stroke-width="1" stroke-linecap="butt"/>
<line x1="50.00" y1="480.86" x2="55.20" y2="480.86" stroke="#8a8a8a" stroke-width="1" stroke-linecap="butt"/>
<text x="0" y="0" font-size="9.0" text-anchor="end" fill="#474747" transform="translate(44.40 484.06)"><tspan letter-spacing="0.36">6</tspan><tspan letter-spacing="0.81">0</tspan></text>
<line x1="52.40" y1="467.92" x2="55.20" y2="467.92" stroke="#8a8a8a" stroke-width="1" stroke-linecap="butt"/>
<line x1="50.00" y1="454.98" x2="55.20" y2="454.98" stroke="#8a8a8a" stroke-width="1" stroke-linecap="butt"/>
<text x="0" y="0" font-size="9.0" text-anchor="end" fill="#474747" transform="translate(44.40 458.18)"><tspan letter-spacing="0.36">8</tspan><tspan letter-spacing="0.81">0</tspan></text>
<line x1="52.40" y1="442.04" x2="55.20" y2="442.04" stroke="#8a8a8a" stroke-width="1" stroke-linecap="butt"/>
<line x1="50.00" y1="429.10" x2="55.20" y2="429.10" stroke="#8a8a8a" stroke-width="1" stroke-linecap="butt"/>
<text x="0" y="0" font-size="9.0" text-anchor="end" fill="#474747" transform="translate(44.40 432.30)"><tspan letter-spacing="-0.77">1</tspan><tspan letter-spacing="0.81">00</tspan></text>
<line x1="55.20" y1="558.50" x2="55.20" y2="563.50" stroke="#8a8a8a" stroke-width="1" stroke-linecap="butt"/>
<text x="0" y="0" font-size="9.0" text-anchor="middle" fill="#474747" transform="translate(55.20 574.90)"><tspan letter-spacing="0.81">0</tspan></text>
<line x1="68.13" y1="558.50" x2="68.13" y2="560.80" stroke="#8a8a8a" stroke-width="1" stroke-linecap="butt"/>
<line x1="81.06" y1="558.50" x2="81.06" y2="560.80" stroke="#8a8a8a" stroke-width="1" stroke-linecap="butt"/>
<line x1="93.99" y1="558.50" x2="93.99" y2="560.80" stroke="#8a8a8a" stroke-width="1" stroke-linecap="butt"/>
<line x1="106.92" y1="558.50" x2="106.92" y2="560.80" stroke="#8a8a8a" stroke-width="1" stroke-linecap="butt"/>
<line x1="119.85" y1="558.50" x2="119.85" y2="563.50" stroke="#8a8a8a" stroke-width="1" stroke-linecap="butt"/>
<text x="0" y="0" font-size="9.0" text-anchor="middle" fill="#474747" transform="translate(119.85 574.90)"><tspan letter-spacing="0.36">5</tspan></text>
<line x1="132.78" y1="558.50" x2="132.78" y2="560.80" stroke="#8a8a8a" stroke-width="1" stroke-linecap="butt"/>
<line x1="145.71" y1="558.50" x2="145.71" y2="560.80" stroke="#8a8a8a" stroke-width="1" stroke-linecap="butt"/>
<line x1="158.64" y1="558.50" x2="158.64" y2="560.80" stroke="#8a8a8a" stroke-width="1" stroke-linecap="butt"/>
<line x1="171.57" y1="558.50" x2="171.57" y2="560.80" stroke="#8a8a8a" stroke-width="1" stroke-linecap="butt"/>
<line x1="184.50" y1="558.50" x2="184.50" y2="563.50" stroke="#8a8a8a" stroke-width="1" stroke-linecap="butt"/>
<text x="0" y="0" font-size="9.0" text-anchor="middle" fill="#474747" transform="translate(184.50 574.90)"><tspan letter-spacing="-0.77">1</tspan><tspan letter-spacing="0.81">0</tspan></text>
<line x1="197.43" y1="558.50" x2="197.43" y2="560.80" stroke="#8a8a8a" stroke-width="1" stroke-linecap="butt"/>
<line x1="210.36" y1="558.50" x2="210.36" y2="560.80" stroke="#8a8a8a" stroke-width="1" stroke-linecap="butt"/>
<line x1="223.29" y1="558.50" x2="223.29" y2="560.80" stroke="#8a8a8a" stroke-width="1" stroke-linecap="butt"/>
<line x1="236.22" y1="558.50" x2="236.22" y2="560.80" stroke="#8a8a8a" stroke-width="1" stroke-linecap="butt"/>
<line x1="249.15" y1="558.50" x2="249.15" y2="563.50" stroke="#8a8a8a" stroke-width="1" stroke-linecap="butt"/>
<text x="0" y="0" font-size="9.0" text-anchor="middle" fill="#474747" transform="translate(249.15 574.90)"><tspan letter-spacing="-0.77">1</tspan><tspan letter-spacing="0.36">5</tspan></text>
<text x="0" y="0" font-size="10" text-anchor="middle" fill="#3a3a3a" transform="translate(152.30 592.30)">T<tspan letter-spacing="0.20">ime</tspan> (<tspan letter-spacing="0.20">d</tspan>)</text>
<text x="0" y="0" font-size="10" text-anchor="middle" fill="#3a3a3a" transform="translate(21.50 494.80) rotate(-90)">S<tspan letter-spacing="0.20">urvival</tspan> (%)</text>
<path d="M197.43,429.10 H236.22" fill="none" stroke="#f7a03e" stroke-width="1.05"/>
<path d="M171.57,429.10 H171.57 V442.04 H184.50 V454.98 H236.22" fill="none" stroke="#4d8cd5" stroke-width="1.05"/>
<path d="M132.78,429.10 H132.78 V442.04 H145.71 V454.98 H171.57 V480.86 H184.50 V506.74 H197.43 V545.56 H236.22" fill="none" stroke="#188c46" stroke-width="1.05"/>
<path d="M171.57,429.10 H197.43 V454.98 H210.36 V467.92 H236.22" fill="none" stroke="#b8252b" stroke-width="1.05"/>
<path d="M106.92,429.10 H171.57 V467.92 H184.50 V480.86 H236.22" fill="none" stroke="#222222" stroke-width="1.05"/>
<path d="M55.20,429.10 H106.92 V442.04 H119.85 V558.50 H119.85" fill="none" stroke="#c9cacc" stroke-width="1.05"/>
<rect x="233.12" y="426.00" width="6.20" height="6.20" fill="#f7a03e"/>
<polygon points="197.43,451.38 201.03,454.98 197.43,458.58 193.83,454.98" fill="#b8252b"/>
<polygon points="210.36,464.32 213.96,467.92 210.36,471.52 206.76,467.92" fill="#b8252b"/>
<polygon points="236.22,464.32 239.82,467.92 236.22,471.52 232.62,467.92" fill="#b8252b"/>
<polygon points="167.97,439.16 175.17,439.16 171.57,445.82" fill="#4d8cd5"/>
<polygon points="180.90,452.10 188.10,452.10 184.50,458.76" fill="#4d8cd5"/>
<polygon points="232.62,452.10 239.82,452.10 236.22,458.76" fill="#4d8cd5"/>
<polygon points="132.78,438.16 136.48,445.00 129.08,445.00" fill="#188c46"/>
<polygon points="145.71,451.10 149.41,457.94 142.01,457.94" fill="#188c46"/>
<polygon points="171.57,476.98 175.27,483.82 167.87,483.82" fill="#188c46"/>
<polygon points="184.50,502.86 188.20,509.70 180.80,509.70" fill="#188c46"/>
<polygon points="197.43,541.67 201.13,548.52 193.73,548.52" fill="#188c46"/>
<polygon points="236.22,541.67 239.92,548.52 232.52,548.52" fill="#188c46"/>
<circle cx="171.57" cy="467.92" r="2.60" fill="#222222"/>
<circle cx="184.50" cy="480.86" r="2.60" fill="#222222"/>
<circle cx="236.22" cy="480.86" r="2.60" fill="#222222"/>
<circle cx="106.92" cy="442.04" r="3.60" fill="#c9cacc"/>
<circle cx="119.85" cy="558.50" r="3.60" fill="#c9cacc"/>
<path d="M243.60,428.60L243.60,426.15M243.60,428.60L245.93,427.84M243.60,428.60L245.04,430.58M243.60,428.60L242.16,430.58M243.60,428.60L241.27,427.84" stroke="#333" stroke-width="1.15" stroke-linecap="butt" fill="none"/>
<path d="M247.50,430.00 L246.60,432.20" stroke="#333" stroke-width="0.9" fill="none"/>
<path d="M255.00,428.60L255.00,426.15M255.00,428.60L257.33,427.84M255.00,428.60L256.44,430.58M255.00,428.60L253.56,430.58M255.00,428.60L252.67,427.84" stroke="#333" stroke-width="1.15" stroke-linecap="butt" fill="none"/>
<path d="M260.30,428.60L260.30,426.15M260.30,428.60L262.63,427.84M260.30,428.60L261.74,430.58M260.30,428.60L258.86,430.58M260.30,428.60L257.97,427.84" stroke="#333" stroke-width="1.15" stroke-linecap="butt" fill="none"/>
<path d="M243.60,454.48L243.60,452.03M243.60,454.48L245.93,453.72M243.60,454.48L245.04,456.46M243.60,454.48L242.16,456.46M243.60,454.48L241.27,453.72" stroke="#333" stroke-width="1.15" stroke-linecap="butt" fill="none"/>
<path d="M247.50,455.88 L246.60,458.08" stroke="#333" stroke-width="0.9" fill="none"/>
<path d="M255.00,454.48L255.00,452.03M255.00,454.48L257.33,453.72M255.00,454.48L256.44,456.46M255.00,454.48L253.56,456.46M255.00,454.48L252.67,453.72" stroke="#333" stroke-width="1.15" stroke-linecap="butt" fill="none"/>
<path d="M260.30,454.48L260.30,452.03M260.30,454.48L262.63,453.72M260.30,454.48L261.74,456.46M260.30,454.48L258.86,456.46M260.30,454.48L257.97,453.72" stroke="#333" stroke-width="1.15" stroke-linecap="butt" fill="none"/>
<path d="M243.60,467.42L243.60,464.97M243.60,467.42L245.93,466.66M243.60,467.42L245.04,469.40M243.60,467.42L242.16,469.40M243.60,467.42L241.27,466.66" stroke="#333" stroke-width="1.15" stroke-linecap="butt" fill="none"/>
<path d="M247.50,468.82 L246.60,471.02" stroke="#333" stroke-width="0.9" fill="none"/>
<path d="M255.00,467.42L255.00,464.97M255.00,467.42L257.33,466.66M255.00,467.42L256.44,469.40M255.00,467.42L253.56,469.40M255.00,467.42L252.67,466.66" stroke="#333" stroke-width="1.15" stroke-linecap="butt" fill="none"/>
<path d="M260.30,467.42L260.30,464.97M260.30,467.42L262.63,466.66M260.30,467.42L261.74,469.40M260.30,467.42L258.86,469.40M260.30,467.42L257.97,466.66" stroke="#333" stroke-width="1.15" stroke-linecap="butt" fill="none"/>
<path d="M247.10,479.30L247.10,476.85M247.10,479.30L249.43,478.54M247.10,479.30L248.54,481.28M247.10,479.30L245.66,481.28M247.10,479.30L244.77,478.54" stroke="#333" stroke-width="1.15" stroke-linecap="butt" fill="none"/>
<line x1="270.00" y1="435.40" x2="284.60" y2="435.40" stroke="#f7a03e" stroke-width="1.2" stroke-linecap="butt"/>
<rect x="274.10" y="432.30" width="6.20" height="6.20" fill="#f7a03e"/>
<text x="0" y="0" font-size="10" text-anchor="start" fill="#3a3a3a" transform="translate(288.80 439.00)"><tspan letter-spacing="0.40">3</tspan><tspan letter-spacing="-0.85">1</tspan><tspan letter-spacing="0.90">0</tspan>-<tspan letter-spacing="-0.85">1</tspan><tspan letter-spacing="0.40">2</tspan>D<tspan letter-spacing="0.90">0</tspan><tspan letter-spacing="0.40">3</tspan></text>
<line x1="270.00" y1="450.70" x2="284.60" y2="450.70" stroke="#b8252b" stroke-width="1.2" stroke-linecap="butt"/>
<polygon points="277.20,447.10 280.80,450.70 277.20,454.30 273.60,450.70" fill="#b8252b"/>
<text x="0" y="0" font-size="10" text-anchor="start" fill="#3a3a3a" transform="translate(288.80 454.30)"><tspan letter-spacing="0.40">3</tspan><tspan letter-spacing="-0.85">1</tspan><tspan letter-spacing="0.90">0</tspan>-<tspan letter-spacing="-0.85">1</tspan>H<tspan letter-spacing="0.90">0</tspan><tspan letter-spacing="0.40">2</tspan></text>
<line x1="270.00" y1="466.00" x2="284.60" y2="466.00" stroke="#4d8cd5" stroke-width="1.2" stroke-linecap="butt"/>
<polygon points="273.60,463.12 280.80,463.12 277.20,469.78" fill="#4d8cd5"/>
<text x="0" y="0" font-size="10" text-anchor="start" fill="#3a3a3a" transform="translate(288.80 469.60)"><tspan letter-spacing="0.40">3</tspan><tspan letter-spacing="-0.85">1</tspan><tspan letter-spacing="0.90">0</tspan>-<tspan letter-spacing="0.40">7</tspan>D<tspan letter-spacing="-0.85">11</tspan></text>
<line x1="270.00" y1="481.30" x2="284.60" y2="481.30" stroke="#188c46" stroke-width="1.2" stroke-linecap="butt"/>
<polygon points="277.20,477.41 280.90,484.26 273.50,484.26" fill="#188c46"/>
<text x="0" y="0" font-size="10" text-anchor="start" fill="#3a3a3a" transform="translate(288.80 484.90)"><tspan letter-spacing="0.40">326</tspan>-<tspan letter-spacing="0.40">289</tspan><tspan letter-spacing="0.20">.</tspan><tspan letter-spacing="0.40">74</tspan></text>
<line x1="270.00" y1="496.60" x2="284.60" y2="496.60" stroke="#222222" stroke-width="1.2" stroke-linecap="butt"/>
<circle cx="277.20" cy="496.60" r="2.40" fill="#222222"/>
<text x="0" y="0" font-size="10" text-anchor="start" fill="#3a3a3a" transform="translate(288.80 500.20)">MEDI<tspan letter-spacing="0.40">8852</tspan></text>
<line x1="270.00" y1="511.90" x2="284.60" y2="511.90" stroke="#c9cacc" stroke-width="1.2" stroke-linecap="butt"/>
<circle cx="277.20" cy="511.90" r="3.60" fill="#c9cacc"/>
<text x="0" y="0" font-size="10" text-anchor="start" fill="#3a3a3a" transform="translate(288.80 515.50)">VRC<tspan letter-spacing="0.90">0</tspan><tspan letter-spacing="-0.85">1</tspan></text>
<text x="0" y="0" font-size="15" text-anchor="start" fill="#111" font-weight="bold" transform="translate(418.80 411.00)" stroke="#111" stroke-width="0.5" stroke-linejoin="round"><tspan letter-spacing="0.30">f</tspan></text>
<text x="0" y="0" font-size="10" text-anchor="middle" fill="#3a3a3a" transform="translate(528.50 421.00)"><tspan letter-spacing="-0.85">1</tspan> <tspan letter-spacing="0.20">mg</tspan> <tspan letter-spacing="0.20">kg</tspan><tspan dy="-3.8" font-size="6.5">−1</tspan></text>
<line x1="460.60" y1="432.85" x2="460.60" y2="561.80" stroke="#8a8a8a" stroke-width="1" stroke-linecap="butt"/>
<line x1="460.60" y1="561.80" x2="588.60" y2="561.80" stroke="#8a8a8a" stroke-width="1" stroke-linecap="butt"/>
<line x1="455.60" y1="432.85" x2="460.60" y2="432.85" stroke="#8a8a8a" stroke-width="1" stroke-linecap="butt"/>
<text x="0" y="0" font-size="9.0" text-anchor="end" fill="#474747" transform="translate(451.20 436.05)"><tspan letter-spacing="-0.77">1</tspan><tspan letter-spacing="0.81">0</tspan></text>
<line x1="455.60" y1="465.10" x2="460.60" y2="465.10" stroke="#8a8a8a" stroke-width="1" stroke-linecap="butt"/>
<text x="0" y="0" font-size="9.0" text-anchor="end" fill="#474747" transform="translate(451.20 468.30)"><tspan letter-spacing="0.81">0</tspan></text>
<line x1="455.60" y1="497.35" x2="460.60" y2="497.35" stroke="#8a8a8a" stroke-width="1" stroke-linecap="butt"/>
<text x="0" y="0" font-size="9.0" text-anchor="end" fill="#474747" transform="translate(451.20 500.55)"><tspan letter-spacing="-0.9">−</tspan><tspan letter-spacing="-0.77">1</tspan><tspan letter-spacing="0.81">0</tspan></text>
<line x1="455.60" y1="529.60" x2="460.60" y2="529.60" stroke="#8a8a8a" stroke-width="1" stroke-linecap="butt"/>
<text x="0" y="0" font-size="9.0" text-anchor="end" fill="#474747" transform="translate(451.20 532.80)"><tspan letter-spacing="-0.9">−</tspan><tspan letter-spacing="0.36">2</tspan><tspan letter-spacing="0.81">0</tspan></text>
<line x1="455.60" y1="561.85" x2="460.60" y2="561.85" stroke="#8a8a8a" stroke-width="1" stroke-linecap="butt"/>
<text x="0" y="0" font-size="9.0" text-anchor="end" fill="#474747" transform="translate(451.20 565.05)"><tspan letter-spacing="-0.9">−</tspan><tspan letter-spacing="0.36">3</tspan><tspan letter-spacing="0.81">0</tspan></text>
<line x1="460.60" y1="465.10" x2="589.50" y2="465.10" stroke="#777" stroke-width="0.9" stroke-dasharray="1.2 2" stroke-linecap="butt"/>
<line x1="460.60" y1="529.60" x2="589.50" y2="529.60" stroke="#777" stroke-width="0.9" stroke-dasharray="1.2 2" stroke-linecap="butt"/>
<line x1="475.70" y1="561.80" x2="475.70" y2="566.50" stroke="#8a8a8a" stroke-width="1" stroke-linecap="butt"/>
<line x1="500.10" y1="561.80" x2="500.10" y2="566.50" stroke="#8a8a8a" stroke-width="1" stroke-linecap="butt"/>
<line x1="524.40" y1="561.80" x2="524.40" y2="566.50" stroke="#8a8a8a" stroke-width="1" stroke-linecap="butt"/>
<line x1="548.60" y1="561.80" x2="548.60" y2="566.50" stroke="#8a8a8a" stroke-width="1" stroke-linecap="butt"/>
<line x1="572.60" y1="561.80" x2="572.60" y2="566.50" stroke="#8a8a8a" stroke-width="1" stroke-linecap="butt"/>
<text x="0" y="0" font-size="10" text-anchor="end" fill="#3a3a3a" transform="translate(482.70 575.00) rotate(-45)"><tspan letter-spacing="0.40">3</tspan><tspan letter-spacing="-0.85">1</tspan><tspan letter-spacing="0.90">0</tspan>-<tspan letter-spacing="-0.85">1</tspan><tspan letter-spacing="0.40">2</tspan>D<tspan letter-spacing="0.90">0</tspan><tspan letter-spacing="0.40">3</tspan></text>
<text x="0" y="0" font-size="10" text-anchor="end" fill="#3a3a3a" transform="translate(507.10 575.00) rotate(-45)"><tspan letter-spacing="0.40">3</tspan><tspan letter-spacing="-0.85">1</tspan><tspan letter-spacing="0.90">0</tspan>-<tspan letter-spacing="-0.85">1</tspan>H<tspan letter-spacing="0.90">0</tspan><tspan letter-spacing="0.40">2</tspan></text>
<text x="0" y="0" font-size="10" text-anchor="end" fill="#3a3a3a" transform="translate(531.40 575.00) rotate(-45)"><tspan letter-spacing="0.40">3</tspan><tspan letter-spacing="-0.85">1</tspan><tspan letter-spacing="0.90">0</tspan>-<tspan letter-spacing="0.40">7</tspan>D<tspan letter-spacing="-0.85">11</tspan></text>
<text x="0" y="0" font-size="10" text-anchor="end" fill="#3a3a3a" transform="translate(555.60 575.00) rotate(-45)"><tspan letter-spacing="0.40">326</tspan>-<tspan letter-spacing="0.40">289</tspan><tspan letter-spacing="0.20">.</tspan><tspan letter-spacing="0.40">74</tspan></text>
<text x="0" y="0" font-size="10" text-anchor="end" fill="#3a3a3a" transform="translate(579.60 575.00) rotate(-45)">MEDI<tspan letter-spacing="0.40">8852</tspan></text>
<line x1="500.30" y1="449.90" x2="573.10" y2="449.90" stroke="#777" stroke-width="1.6" stroke-linecap="butt"/>
<text x="0" y="0" font-size="9" text-anchor="middle" fill="#3a3a3a" transform="translate(533.80 444.20)"><tspan font-style="italic">P</tspan> = <tspan letter-spacing="0.81">0</tspan><tspan letter-spacing="0.18">.</tspan><tspan letter-spacing="0.81">0</tspan><tspan letter-spacing="0.36">5</tspan></text>
<text x="0" y="0" font-size="10" text-anchor="middle" fill="#3a3a3a" transform="translate(428.80 497.60) rotate(-90)">M<tspan letter-spacing="0.20">ax</tspan> <tspan letter-spacing="0.20">weight</tspan> <tspan letter-spacing="0.20">change</tspan> (%)</text>
<rect x="472.70" y="471.20" width="3.80" height="3.80" fill="#f7931e"/>
<rect x="475.90" y="471.20" width="3.80" height="3.80" fill="#f7931e"/>
<rect x="477.40" y="476.20" width="3.80" height="3.80" fill="#f7931e"/>
<rect x="474.10" y="477.60" width="3.80" height="3.80" fill="#f7931e"/>
<rect x="468.60" y="479.10" width="3.80" height="3.80" fill="#f7931e"/>
<rect x="471.10" y="479.10" width="3.80" height="3.80" fill="#f7931e"/>
<rect x="480.30" y="479.40" width="3.80" height="3.80" fill="#f7931e"/>
<rect x="477.60" y="479.60" width="3.80" height="3.80" fill="#f7931e"/>
<rect x="471.10" y="482.10" width="3.80" height="3.80" fill="#f7931e"/>
<rect x="476.10" y="483.10" width="3.80" height="3.80" fill="#f7931e"/>
<rect x="471.10" y="485.60" width="3.80" height="3.80" fill="#f7931e"/>
<line x1="471.20" y1="481.30" x2="480.30" y2="481.30" stroke="#333" stroke-width="1" stroke-linecap="butt"/>
<line x1="492.50" y1="477.50" x2="508.50" y2="477.50" stroke="#333" stroke-width="1" stroke-linecap="butt"/>
<polygon points="494.10,466.90 496.30,469.10 494.10,471.30 491.90,469.10" fill="#e0262b"/>
<polygon points="498.30,466.90 500.50,469.10 498.30,471.30 496.10,469.10" fill="#e0262b"/>
<polygon points="502.40,468.90 504.60,471.10 502.40,473.30 500.20,471.10" fill="#e0262b"/>
<polygon points="502.40,473.60 504.60,475.80 502.40,478.00 500.20,475.80" fill="#e0262b"/>
<polygon points="498.30,474.70 500.50,476.90 498.30,479.10 496.10,476.90" fill="#e0262b"/>
<polygon points="494.10,476.70 496.30,478.90 494.10,481.10 491.90,478.90" fill="#e0262b"/>
<polygon points="502.40,478.20 504.60,480.40 502.40,482.60 500.20,480.40" fill="#e0262b"/>
<polygon points="506.50,476.30 508.70,478.50 506.50,480.70 504.30,478.50" fill="#e0262b"/>
<polygon points="500.30,494.20 502.50,496.40 500.30,498.60 498.10,496.40" fill="#e0262b"/>
<polygon points="500.30,522.20 502.50,524.40 500.30,526.60 498.10,524.40" fill="#e0262b"/>
<line x1="516.60" y1="482.20" x2="533.00" y2="482.20" stroke="#333" stroke-width="1" stroke-linecap="butt"/>
<polygon points="522.30,462.94 526.70,462.94 524.50,467.01" fill="#3f86d2"/>
<polygon points="522.30,471.64 526.70,471.64 524.50,475.71" fill="#3f86d2"/>
<polygon points="516.20,474.64 520.60,474.64 518.40,478.71" fill="#3f86d2"/>
<polygon points="528.50,475.54 532.90,475.54 530.70,479.61" fill="#3f86d2"/>
<polygon points="516.20,479.84 520.60,479.84 518.40,483.91" fill="#3f86d2"/>
<polygon points="522.30,480.44 526.70,480.44 524.50,484.51" fill="#3f86d2"/>
<polygon points="528.50,483.04 532.90,483.04 530.70,487.11" fill="#3f86d2"/>
<polygon points="522.30,486.84 526.70,486.84 524.50,490.91" fill="#3f86d2"/>
<polygon points="522.30,493.24 526.70,493.24 524.50,497.31" fill="#3f86d2"/>
<polygon points="522.30,534.54 526.70,534.54 524.50,538.61" fill="#3f86d2"/>
<line x1="541.00" y1="523.10" x2="556.50" y2="523.10" stroke="#333" stroke-width="1" stroke-linecap="butt"/>
<polygon points="548.80,486.39 551.00,490.46 546.60,490.46" fill="#13914a"/>
<polygon points="548.80,501.69 551.00,505.76 546.60,505.76" fill="#13914a"/>
<polygon points="548.80,510.89 551.00,514.96 546.60,514.96" fill="#13914a"/>
<polygon points="542.50,519.19 544.70,523.26 540.30,523.26" fill="#13914a"/>
<polygon points="554.80,519.59 557.00,523.66 552.60,523.66" fill="#13914a"/>
<polygon points="548.80,522.39 551.00,526.46 546.60,526.46" fill="#13914a"/>
<polygon points="545.50,531.49 547.70,535.56 543.30,535.56" fill="#13914a"/>
<polygon points="551.70,529.39 553.90,533.46 549.50,533.46" fill="#13914a"/>
<polygon points="548.80,536.19 551.00,540.26 546.60,540.26" fill="#13914a"/>
<polygon points="548.80,544.69 551.00,548.76 546.60,548.76" fill="#13914a"/>
<circle cx="572.80" cy="471.60" r="2.00" fill="#1a1a1a"/>
<circle cx="572.80" cy="475.90" r="2.00" fill="#1a1a1a"/>
<circle cx="572.80" cy="483.90" r="2.00" fill="#1a1a1a"/>
<circle cx="572.80" cy="489.00" r="2.00" fill="#1a1a1a"/>
<circle cx="572.80" cy="495.80" r="2.00" fill="#1a1a1a"/>
<circle cx="576.80" cy="521.20" r="2.00" fill="#1a1a1a"/>
<circle cx="568.90" cy="524.10" r="2.00" fill="#1a1a1a"/>
<circle cx="568.90" cy="532.00" r="2.00" fill="#1a1a1a"/>
<circle cx="576.80" cy="535.00" r="2.00" fill="#1a1a1a"/>
<circle cx="568.90" cy="537.40" r="2.00" fill="#1a1a1a"/>
<line x1="565.00" y1="508.40" x2="581.10" y2="508.40" stroke="#222" stroke-width="1.1" stroke-linecap="butt"/>
<text x="0" y="0" font-size="15" text-anchor="start" fill="#111" font-weight="bold" transform="translate(-0.10 633.50)" stroke="#111" stroke-width="0.5" stroke-linejoin="round"><tspan letter-spacing="0.30">g</tspan></text>
<text x="0" y="0" font-size="10" text-anchor="middle" fill="#3a3a3a" transform="translate(158.00 639.50)" word-spacing="1.2"><tspan letter-spacing="0.90">0</tspan><tspan letter-spacing="0.20">.</tspan><tspan letter-spacing="0.40">6</tspan> <tspan letter-spacing="0.20">mg</tspan> <tspan letter-spacing="0.20">kg</tspan><tspan dy="-3.8" font-size="6.5">−1</tspan><tspan dy="3.8"> and 0.3 mg kg</tspan><tspan dy="-3.8" font-size="6.5">−1</tspan></text>
<line x1="54.60" y1="654.50" x2="54.60" y2="788.60" stroke="#8a8a8a" stroke-width="1" stroke-linecap="butt"/>
<line x1="49.60" y1="783.60" x2="248.10" y2="783.60" stroke="#8a8a8a" stroke-width="1" stroke-linecap="butt"/>
<line x1="49.40" y1="783.60" x2="54.60" y2="783.60" stroke="#8a8a8a" stroke-width="1" stroke-linecap="butt"/>
<text x="0" y="0" font-size="9.0" text-anchor="end" fill="#474747" transform="translate(43.80 786.80)"><tspan letter-spacing="0.81">0</tspan></text>
<line x1="51.80" y1="770.69" x2="54.60" y2="770.69" stroke="#8a8a8a" stroke-width="1" stroke-linecap="butt"/>
<line x1="49.40" y1="757.78" x2="54.60" y2="757.78" stroke="#8a8a8a" stroke-width="1" stroke-linecap="butt"/>
<text x="0" y="0" font-size="9.0" text-anchor="end" fill="#474747" transform="translate(43.80 760.98)"><tspan letter-spacing="0.36">2</tspan><tspan letter-spacing="0.81">0</tspan></text>
<line x1="51.80" y1="744.87" x2="54.60" y2="744.87" stroke="#8a8a8a" stroke-width="1" stroke-linecap="butt"/>
<line x1="49.40" y1="731.96" x2="54.60" y2="731.96" stroke="#8a8a8a" stroke-width="1" stroke-linecap="butt"/>
<text x="0" y="0" font-size="9.0" text-anchor="end" fill="#474747" transform="translate(43.80 735.16)"><tspan letter-spacing="0.36">4</tspan><tspan letter-spacing="0.81">0</tspan></text>
<line x1="51.80" y1="719.05" x2="54.60" y2="719.05" stroke="#8a8a8a" stroke-width="1" stroke-linecap="butt"/>
<line x1="49.40" y1="706.14" x2="54.60" y2="706.14" stroke="#8a8a8a" stroke-width="1" stroke-linecap="butt"/>
<text x="0" y="0" font-size="9.0" text-anchor="end" fill="#474747" transform="translate(43.80 709.34)"><tspan letter-spacing="0.36">6</tspan><tspan letter-spacing="0.81">0</tspan></text>
<line x1="51.80" y1="693.23" x2="54.60" y2="693.23" stroke="#8a8a8a" stroke-width="1" stroke-linecap="butt"/>
<line x1="49.40" y1="680.32" x2="54.60" y2="680.32" stroke="#8a8a8a" stroke-width="1" stroke-linecap="butt"/>
<text x="0" y="0" font-size="9.0" text-anchor="end" fill="#474747" transform="translate(43.80 683.52)"><tspan letter-spacing="0.36">8</tspan><tspan letter-spacing="0.81">0</tspan></text>
<line x1="51.80" y1="667.41" x2="54.60" y2="667.41" stroke="#8a8a8a" stroke-width="1" stroke-linecap="butt"/>
<line x1="49.40" y1="654.50" x2="54.60" y2="654.50" stroke="#8a8a8a" stroke-width="1" stroke-linecap="butt"/>
<text x="0" y="0" font-size="9.0" text-anchor="end" fill="#474747" transform="translate(43.80 657.70)"><tspan letter-spacing="-0.77">1</tspan><tspan letter-spacing="0.81">00</tspan></text>
<line x1="54.60" y1="783.60" x2="54.60" y2="788.60" stroke="#8a8a8a" stroke-width="1" stroke-linecap="butt"/>
<text x="0" y="0" font-size="9.0" text-anchor="middle" fill="#474747" transform="translate(54.60 800.50)"><tspan letter-spacing="0.81">0</tspan></text>
<line x1="67.50" y1="783.60" x2="67.50" y2="785.90" stroke="#8a8a8a" stroke-width="1" stroke-linecap="butt"/>
<line x1="80.40" y1="783.60" x2="80.40" y2="785.90" stroke="#8a8a8a" stroke-width="1" stroke-linecap="butt"/>
<line x1="93.30" y1="783.60" x2="93.30" y2="785.90" stroke="#8a8a8a" stroke-width="1" stroke-linecap="butt"/>
<line x1="106.20" y1="783.60" x2="106.20" y2="785.90" stroke="#8a8a8a" stroke-width="1" stroke-linecap="butt"/>
<line x1="119.10" y1="783.60" x2="119.10" y2="788.60" stroke="#8a8a8a" stroke-width="1" stroke-linecap="butt"/>
<text x="0" y="0" font-size="9.0" text-anchor="middle" fill="#474747" transform="translate(119.10 800.50)"><tspan letter-spacing="0.36">5</tspan></text>
<line x1="132.00" y1="783.60" x2="132.00" y2="785.90" stroke="#8a8a8a" stroke-width="1" stroke-linecap="butt"/>
<line x1="144.90" y1="783.60" x2="144.90" y2="785.90" stroke="#8a8a8a" stroke-width="1" stroke-linecap="butt"/>
<line x1="157.80" y1="783.60" x2="157.80" y2="785.90" stroke="#8a8a8a" stroke-width="1" stroke-linecap="butt"/>
<line x1="170.70" y1="783.60" x2="170.70" y2="785.90" stroke="#8a8a8a" stroke-width="1" stroke-linecap="butt"/>
<line x1="183.60" y1="783.60" x2="183.60" y2="788.60" stroke="#8a8a8a" stroke-width="1" stroke-linecap="butt"/>
<text x="0" y="0" font-size="9.0" text-anchor="middle" fill="#474747" transform="translate(183.60 800.50)"><tspan letter-spacing="-0.77">1</tspan><tspan letter-spacing="0.81">0</tspan></text>
<line x1="196.50" y1="783.60" x2="196.50" y2="785.90" stroke="#8a8a8a" stroke-width="1" stroke-linecap="butt"/>
<line x1="209.40" y1="783.60" x2="209.40" y2="785.90" stroke="#8a8a8a" stroke-width="1" stroke-linecap="butt"/>
<line x1="222.30" y1="783.60" x2="222.30" y2="785.90" stroke="#8a8a8a" stroke-width="1" stroke-linecap="butt"/>
<line x1="235.20" y1="783.60" x2="235.20" y2="785.90" stroke="#8a8a8a" stroke-width="1" stroke-linecap="butt"/>
<line x1="248.10" y1="783.60" x2="248.10" y2="788.60" stroke="#8a8a8a" stroke-width="1" stroke-linecap="butt"/>
<text x="0" y="0" font-size="9.0" text-anchor="middle" fill="#474747" transform="translate(248.10 800.50)"><tspan letter-spacing="-0.77">1</tspan><tspan letter-spacing="0.36">5</tspan></text>
<text x="0" y="0" font-size="10" text-anchor="middle" fill="#3a3a3a" transform="translate(151.80 815.30)">T<tspan letter-spacing="0.20">ime</tspan> (<tspan letter-spacing="0.20">d</tspan>)</text>
<text x="0" y="0" font-size="10" text-anchor="middle" fill="#3a3a3a" transform="translate(21.50 719.00) rotate(-90)">S<tspan letter-spacing="0.20">urvival</tspan> (%)</text>
<path d="M54.60,654.50 H209.40 V680.32 H235.20" fill="none" stroke="#f7a03e" stroke-width="1.05"/>
<path d="M54.60,654.50 H144.90 V667.41 H183.60 V693.23 H209.40 V706.14 H222.30 V731.96 H235.20 V744.87 H235.20" fill="none" stroke="#f7a03e" stroke-width="1.05" stroke-dasharray="3 2"/>
<path d="M54.60,654.50 H235.20" fill="none" stroke="#4d8cd5" stroke-width="1.05"/>
<path d="M54.60,654.50 H157.80 V667.41 H170.70 V680.32 H183.60 V706.14 H196.50 V731.96 H209.40 V757.78 H235.20" fill="none" stroke="#4d8cd5" stroke-width="1.05" stroke-dasharray="3 2"/>
<path d="M54.60,654.50 H196.50 V680.32 H235.20" fill="none" stroke="#222222" stroke-width="1.05"/>
<path d="M54.60,654.50 H157.80 V706.14 H170.70 V731.96 H183.60 V744.87 H196.50 V757.78 H235.20" fill="none" stroke="#444" stroke-width="1.05" stroke-dasharray="3 2"/>
<path d="M54.60,654.50 H132.00 V667.41 H144.90 V770.69 H235.20" fill="none" stroke="#c9cacc" stroke-width="1.05"/>
<rect x="205.60" y="676.52" width="7.60" height="7.60" fill="#f7a03e"/>
<rect x="231.40" y="676.52" width="7.60" height="7.60" fill="#f7a03e"/>
<rect x="142.10" y="664.61" width="5.60" height="5.60" fill="white" stroke="#f7a03e" stroke-width="1.0"/>
<rect x="180.80" y="690.43" width="5.60" height="5.60" fill="white" stroke="#f7a03e" stroke-width="1.0"/>
<rect x="206.60" y="703.34" width="5.60" height="5.60" fill="white" stroke="#f7a03e" stroke-width="1.0"/>
<rect x="219.50" y="729.16" width="5.60" height="5.60" fill="white" stroke="#f7a03e" stroke-width="1.0"/>
<rect x="232.40" y="742.07" width="5.60" height="5.60" fill="white" stroke="#f7a03e" stroke-width="1.0"/>
<polygon points="231.20,651.30 239.20,651.30 235.20,658.70" fill="#4d8cd5"/>
<polygon points="154.60,664.85 161.00,664.85 157.80,670.77" fill="white" stroke="#4d8cd5" stroke-width="1.0"/>
<polygon points="167.50,677.76 173.90,677.76 170.70,683.68" fill="white" stroke="#4d8cd5" stroke-width="1.0"/>
<polygon points="180.40,703.58 186.80,703.58 183.60,709.50" fill="white" stroke="#4d8cd5" stroke-width="1.0"/>
<polygon points="193.30,729.40 199.70,729.40 196.50,735.32" fill="white" stroke="#4d8cd5" stroke-width="1.0"/>
<polygon points="206.20,755.22 212.60,755.22 209.40,761.14" fill="white" stroke="#4d8cd5" stroke-width="1.0"/>
<polygon points="232.00,755.22 238.40,755.22 235.20,761.14" fill="white" stroke="#4d8cd5" stroke-width="1.0"/>
<circle cx="196.50" cy="680.32" r="2.60" fill="#222222"/>
<circle cx="235.20" cy="680.32" r="2.60" fill="#222222"/>
<circle cx="157.80" cy="706.14" r="2.70" fill="none" stroke="#333" stroke-width="1.0"/>
<circle cx="170.70" cy="731.96" r="2.70" fill="none" stroke="#333" stroke-width="1.0"/>
<circle cx="183.60" cy="744.87" r="2.70" fill="none" stroke="#333" stroke-width="1.0"/>
<circle cx="196.50" cy="757.78" r="2.70" fill="none" stroke="#333" stroke-width="1.0"/>
<circle cx="235.20" cy="757.78" r="2.70" fill="none" stroke="#333" stroke-width="1.0"/>
<circle cx="132.00" cy="667.41" r="3.60" fill="#c9cacc"/>
<circle cx="144.90" cy="770.69" r="3.60" fill="#c9cacc"/>
<circle cx="235.20" cy="770.69" r="3.60" fill="#c9cacc"/>
<path d="M244.60,654.20L244.60,651.75M244.60,654.20L246.93,653.44M244.60,654.20L246.04,656.18M244.60,654.20L243.16,656.18M244.60,654.20L242.27,653.44" stroke="#333" stroke-width="1.15" stroke-linecap="butt" fill="none"/>
<path d="M244.60,680.00L244.60,677.55M244.60,680.00L246.93,679.24M244.60,680.00L246.04,681.98M244.60,680.00L243.16,681.98M244.60,680.00L242.27,679.24" stroke="#333" stroke-width="1.15" stroke-linecap="butt" fill="none"/>
<line x1="251.30" y1="659.60" x2="265.30" y2="659.60" stroke="#f7a03e" stroke-width="1.2" stroke-linecap="butt"/>
<rect x="254.80" y="656.10" width="7.00" height="7.00" fill="#f7a03e"/>
<text x="0" y="0" font-size="10" text-anchor="start" fill="#3a3a3a" transform="translate(270.90 663.90)"><tspan letter-spacing="0.40">3</tspan><tspan letter-spacing="-0.85">1</tspan><tspan letter-spacing="0.90">0</tspan>-<tspan letter-spacing="-0.85">1</tspan><tspan letter-spacing="0.40">2</tspan>D<tspan letter-spacing="0.90">0</tspan><tspan letter-spacing="0.40">3</tspan> <tspan letter-spacing="0.90">0</tspan><tspan letter-spacing="0.20">.</tspan><tspan letter-spacing="0.40">6</tspan> <tspan letter-spacing="0.20">mg</tspan> <tspan letter-spacing="0.20">kg</tspan><tspan dy="-3.8" font-size="6.5">−1</tspan></text>
<line x1="251.30" y1="673.80" x2="265.30" y2="673.80" stroke="#f7a03e" stroke-width="1.2" stroke-dasharray="3 2" stroke-linecap="butt"/>
<rect x="255.50" y="671.00" width="5.60" height="5.60" fill="white" stroke="#f7a03e" stroke-width="1.0"/>
<text x="0" y="0" font-size="10" text-anchor="start" fill="#3a3a3a" transform="translate(270.90 678.10)"><tspan letter-spacing="0.40">3</tspan><tspan letter-spacing="-0.85">1</tspan><tspan letter-spacing="0.90">0</tspan>-<tspan letter-spacing="-0.85">1</tspan><tspan letter-spacing="0.40">2</tspan>D<tspan letter-spacing="0.90">0</tspan><tspan letter-spacing="0.40">3</tspan> <tspan letter-spacing="0.90">0</tspan><tspan letter-spacing="0.20">.</tspan><tspan letter-spacing="0.40">3</tspan> <tspan letter-spacing="0.20">mg</tspan> <tspan letter-spacing="0.20">kg</tspan><tspan dy="-3.8" font-size="6.5">−1</tspan></text>
<line x1="251.30" y1="693.40" x2="265.30" y2="693.40" stroke="#4d8cd5" stroke-width="1.2" stroke-linecap="butt"/>
<polygon points="254.30,690.20 262.30,690.20 258.30,697.60" fill="#4d8cd5"/>
<text x="0" y="0" font-size="10" text-anchor="start" fill="#3a3a3a" transform="translate(272.30 697.70)"><tspan letter-spacing="0.40">3</tspan><tspan letter-spacing="-0.85">1</tspan><tspan letter-spacing="0.90">0</tspan>-<tspan letter-spacing="0.40">7</tspan>D<tspan letter-spacing="-0.85">11</tspan> <tspan letter-spacing="0.90">0</tspan><tspan letter-spacing="0.20">.</tspan><tspan letter-spacing="0.40">6</tspan> <tspan letter-spacing="0.20">mg</tspan> <tspan letter-spacing="0.20">kg</tspan><tspan dy="-3.8" font-size="6.5">−1</tspan></text>
<line x1="251.30" y1="708.30" x2="265.30" y2="708.30" stroke="#4d8cd5" stroke-width="1.2" stroke-dasharray="3 2" stroke-linecap="butt"/>
<polygon points="255.10,705.74 261.50,705.74 258.30,711.66" fill="white" stroke="#4d8cd5" stroke-width="1.0"/>
<text x="0" y="0" font-size="10" text-anchor="start" fill="#3a3a3a" transform="translate(272.30 712.60)"><tspan letter-spacing="0.40">3</tspan><tspan letter-spacing="-0.85">1</tspan><tspan letter-spacing="0.90">0</tspan>-<tspan letter-spacing="0.40">7</tspan>D<tspan letter-spacing="-0.85">11</tspan> <tspan letter-spacing="0.90">0</tspan><tspan letter-spacing="0.20">.</tspan><tspan letter-spacing="0.40">3</tspan> <tspan letter-spacing="0.20">mg</tspan> <tspan letter-spacing="0.20">kg</tspan><tspan dy="-3.8" font-size="6.5">−1</tspan></text>
<line x1="251.30" y1="727.10" x2="265.30" y2="727.10" stroke="#222222" stroke-width="1.2" stroke-linecap="butt"/>
<circle cx="258.30" cy="727.10" r="2.60" fill="#222222"/>
<text x="0" y="0" font-size="10" text-anchor="start" fill="#3a3a3a" transform="translate(271.40 731.40)">MEDI<tspan letter-spacing="0.40">8852</tspan> <tspan letter-spacing="0.90">0</tspan><tspan letter-spacing="0.20">.</tspan><tspan letter-spacing="0.40">6</tspan> <tspan letter-spacing="0.20">mg</tspan> <tspan letter-spacing="0.20">kg</tspan><tspan dy="-3.8" font-size="6.5">−1</tspan></text>
<line x1="251.30" y1="741.10" x2="265.30" y2="741.10" stroke="#444" stroke-width="1.2" stroke-dasharray="3 2" stroke-linecap="butt"/>
<circle cx="258.30" cy="741.10" r="2.70" fill="none" stroke="#333" stroke-width="1.0"/>
<text x="0" y="0" font-size="10" text-anchor="start" fill="#3a3a3a" transform="translate(271.40 745.40)">MEDI<tspan letter-spacing="0.40">8852</tspan> <tspan letter-spacing="0.90">0</tspan><tspan letter-spacing="0.20">.</tspan><tspan letter-spacing="0.40">3</tspan> <tspan letter-spacing="0.20">mg</tspan> <tspan letter-spacing="0.20">kg</tspan><tspan dy="-3.8" font-size="6.5">−1</tspan></text>
<line x1="251.30" y1="757.40" x2="265.30" y2="757.40" stroke="#c9cacc" stroke-width="1.2" stroke-linecap="butt"/>
<circle cx="258.30" cy="757.40" r="3.60" fill="#c9cacc"/>
<text x="0" y="0" font-size="10" text-anchor="start" fill="#3a3a3a" transform="translate(271.00 761.70)">VRC<tspan letter-spacing="0.90">0</tspan><tspan letter-spacing="-0.85">1</tspan> <tspan letter-spacing="0.90">0</tspan><tspan letter-spacing="0.20">.</tspan><tspan letter-spacing="0.40">6</tspan> <tspan letter-spacing="0.20">mg</tspan> <tspan letter-spacing="0.20">kg</tspan><tspan dy="-3.8" font-size="6.5">−1</tspan></text>
<text x="0" y="0" font-size="15" text-anchor="start" fill="#111" font-weight="bold" transform="translate(419.20 633.90)" stroke="#111" stroke-width="0.5" stroke-linejoin="round"><tspan letter-spacing="0.30">h</tspan></text>
<text x="0" y="0" font-size="10" text-anchor="middle" fill="#3a3a3a" transform="translate(514.80 651.60)"><tspan letter-spacing="0.90">0</tspan><tspan letter-spacing="0.20">.</tspan><tspan letter-spacing="0.40">6</tspan> <tspan letter-spacing="0.20">mg</tspan> <tspan letter-spacing="0.20">kg</tspan><tspan dy="-3.8" font-size="6.5">−1</tspan></text>
<text x="0" y="0" font-size="10" text-anchor="middle" fill="#3a3a3a" transform="translate(609.40 651.60)"><tspan letter-spacing="0.90">0</tspan><tspan letter-spacing="0.20">.</tspan><tspan letter-spacing="0.40">3</tspan> <tspan letter-spacing="0.20">mg</tspan> <tspan letter-spacing="0.20">kg</tspan><tspan dy="-3.8" font-size="6.5">−1</tspan></text>
<line x1="458.80" y1="660.15" x2="458.80" y2="788.50" stroke="#8a8a8a" stroke-width="1" stroke-linecap="butt"/>
<line x1="458.80" y1="788.50" x2="544.80" y2="788.50" stroke="#8a8a8a" stroke-width="1" stroke-linecap="butt"/>
<line x1="453.80" y1="660.15" x2="458.80" y2="660.15" stroke="#8a8a8a" stroke-width="1" stroke-linecap="butt"/>
<line x1="453.80" y1="692.30" x2="458.80" y2="692.30" stroke="#8a8a8a" stroke-width="1" stroke-linecap="butt"/>
<line x1="453.80" y1="724.45" x2="458.80" y2="724.45" stroke="#8a8a8a" stroke-width="1" stroke-linecap="butt"/>
<line x1="453.80" y1="756.60" x2="458.80" y2="756.60" stroke="#8a8a8a" stroke-width="1" stroke-linecap="butt"/>
<line x1="453.80" y1="788.75" x2="458.80" y2="788.75" stroke="#8a8a8a" stroke-width="1" stroke-linecap="butt"/>
<line x1="458.80" y1="692.30" x2="545.80" y2="692.30" stroke="#999" stroke-width="0.9" stroke-dasharray="1.2 2" stroke-linecap="butt"/>
<line x1="458.80" y1="756.60" x2="545.80" y2="756.60" stroke="#999" stroke-width="0.9" stroke-dasharray="1.2 2" stroke-linecap="butt"/>
<line x1="476.40" y1="788.50" x2="476.40" y2="793.00" stroke="#8a8a8a" stroke-width="1" stroke-linecap="butt"/>
<line x1="502.30" y1="788.50" x2="502.30" y2="793.00" stroke="#8a8a8a" stroke-width="1" stroke-linecap="butt"/>
<line x1="527.90" y1="788.50" x2="527.90" y2="793.00" stroke="#8a8a8a" stroke-width="1" stroke-linecap="butt"/>
<text x="0" y="0" font-size="10" text-anchor="end" fill="#3a3a3a" transform="translate(482.90 802.50) rotate(-45)"><tspan letter-spacing="0.40">3</tspan><tspan letter-spacing="-0.85">1</tspan><tspan letter-spacing="0.90">0</tspan>-<tspan letter-spacing="-0.85">1</tspan><tspan letter-spacing="0.40">2</tspan>D<tspan letter-spacing="0.90">0</tspan><tspan letter-spacing="0.40">3</tspan></text>
<text x="0" y="0" font-size="10" text-anchor="end" fill="#3a3a3a" transform="translate(508.80 802.50) rotate(-45)"><tspan letter-spacing="0.40">3</tspan><tspan letter-spacing="-0.85">1</tspan><tspan letter-spacing="0.90">0</tspan>-<tspan letter-spacing="0.40">7</tspan>D<tspan letter-spacing="-0.85">11</tspan></text>
<text x="0" y="0" font-size="10" text-anchor="end" fill="#3a3a3a" transform="translate(534.40 802.50) rotate(-45)">MEDI<tspan letter-spacing="0.40">8852</tspan></text>
<line x1="559.30" y1="660.15" x2="559.30" y2="788.50" stroke="#8a8a8a" stroke-width="1" stroke-linecap="butt"/>
<line x1="559.30" y1="788.50" x2="645.30" y2="788.50" stroke="#8a8a8a" stroke-width="1" stroke-linecap="butt"/>
<line x1="554.30" y1="660.15" x2="559.30" y2="660.15" stroke="#8a8a8a" stroke-width="1" stroke-linecap="butt"/>
<line x1="554.30" y1="692.30" x2="559.30" y2="692.30" stroke="#8a8a8a" stroke-width="1" stroke-linecap="butt"/>
<line x1="554.30" y1="724.45" x2="559.30" y2="724.45" stroke="#8a8a8a" stroke-width="1" stroke-linecap="butt"/>
<line x1="554.30" y1="756.60" x2="559.30" y2="756.60" stroke="#8a8a8a" stroke-width="1" stroke-linecap="butt"/>
<line x1="554.30" y1="788.75" x2="559.30" y2="788.75" stroke="#8a8a8a" stroke-width="1" stroke-linecap="butt"/>
<line x1="559.30" y1="692.30" x2="646.30" y2="692.30" stroke="#555" stroke-width="0.9" stroke-dasharray="1.2 2" stroke-linecap="butt"/>
<line x1="559.30" y1="756.60" x2="646.30" y2="756.60" stroke="#555" stroke-width="0.9" stroke-dasharray="1.2 2" stroke-linecap="butt"/>
<line x1="576.50" y1="788.50" x2="576.50" y2="793.00" stroke="#8a8a8a" stroke-width="1" stroke-linecap="butt"/>
<line x1="602.30" y1="788.50" x2="602.30" y2="793.00" stroke="#8a8a8a" stroke-width="1" stroke-linecap="butt"/>
<line x1="628.30" y1="788.50" x2="628.30" y2="793.00" stroke="#8a8a8a" stroke-width="1" stroke-linecap="butt"/>
<text x="0" y="0" font-size="10" text-anchor="end" fill="#3a3a3a" transform="translate(583.00 802.50) rotate(-45)"><tspan letter-spacing="0.40">3</tspan><tspan letter-spacing="-0.85">1</tspan><tspan letter-spacing="0.90">0</tspan>-<tspan letter-spacing="-0.85">1</tspan><tspan letter-spacing="0.40">2</tspan>D<tspan letter-spacing="0.90">0</tspan><tspan letter-spacing="0.40">3</tspan></text>
<text x="0" y="0" font-size="10" text-anchor="end" fill="#3a3a3a" transform="translate(608.80 802.50) rotate(-45)"><tspan letter-spacing="0.40">3</tspan><tspan letter-spacing="-0.85">1</tspan><tspan letter-spacing="0.90">0</tspan>-<tspan letter-spacing="0.40">7</tspan>D<tspan letter-spacing="-0.85">11</tspan></text>
<text x="0" y="0" font-size="10" text-anchor="end" fill="#3a3a3a" transform="translate(634.80 802.50) rotate(-45)">MEDI<tspan letter-spacing="0.40">8852</tspan></text>
<text x="0" y="0" font-size="9.0" text-anchor="end" fill="#474747" transform="translate(449.50 663.35)"><tspan letter-spacing="-0.77">1</tspan><tspan letter-spacing="0.81">0</tspan></text>
<text x="0" y="0" font-size="9.0" text-anchor="end" fill="#474747" transform="translate(449.50 695.50)"><tspan letter-spacing="0.81">0</tspan></text>
<text x="0" y="0" font-size="9.0" text-anchor="end" fill="#474747" transform="translate(449.50 727.65)"><tspan letter-spacing="-0.9">−</tspan><tspan letter-spacing="-0.77">1</tspan><tspan letter-spacing="0.81">0</tspan></text>
<text x="0" y="0" font-size="9.0" text-anchor="end" fill="#474747" transform="translate(449.50 759.80)"><tspan letter-spacing="-0.9">−</tspan><tspan letter-spacing="0.36">2</tspan><tspan letter-spacing="0.81">0</tspan></text>
<text x="0" y="0" font-size="9.0" text-anchor="end" fill="#474747" transform="translate(449.50 791.95)"><tspan letter-spacing="-0.9">−</tspan><tspan letter-spacing="0.36">3</tspan><tspan letter-spacing="0.81">0</tspan></text>
<line x1="502.20" y1="680.10" x2="528.30" y2="680.10" stroke="#777" stroke-width="1.4" stroke-linecap="butt"/>
<text x="0" y="0" font-size="9" text-anchor="middle" fill="#3a3a3a" transform="translate(517.20 673.60)"><tspan font-style="italic">P</tspan> = <tspan letter-spacing="0.81">0</tspan><tspan letter-spacing="0.18">.</tspan><tspan letter-spacing="0.81">0</tspan><tspan letter-spacing="0.36">4</tspan></text>
<text x="0" y="0" font-size="10" text-anchor="middle" fill="#3a3a3a" transform="translate(428.60 724.20) rotate(-90)">%M<tspan letter-spacing="0.20">ax</tspan> <tspan letter-spacing="0.20">weight</tspan> <tspan letter-spacing="0.20">change</tspan></text>
<line x1="467.80" y1="705.20" x2="484.80" y2="705.20" stroke="#333" stroke-width="1" stroke-linecap="butt"/>
<rect x="468.15" y="698.75" width="3.90" height="3.90" fill="#f7931e"/>
<rect x="476.55" y="696.45" width="3.90" height="3.90" fill="#f7931e"/>
<rect x="481.05" y="698.55" width="3.90" height="3.90" fill="#f7931e"/>
<rect x="472.05" y="700.35" width="3.90" height="3.90" fill="#f7931e"/>
<rect x="476.55" y="701.75" width="3.90" height="3.90" fill="#f7931e"/>
<rect x="472.05" y="705.05" width="3.90" height="3.90" fill="#f7931e"/>
<rect x="476.55" y="706.75" width="3.90" height="3.90" fill="#f7931e"/>
<rect x="474.45" y="723.65" width="3.90" height="3.90" fill="#f7931e"/>
<rect x="474.45" y="747.05" width="3.90" height="3.90" fill="#f7931e"/>
<rect x="474.45" y="768.95" width="3.90" height="3.90" fill="#f7931e"/>
<polygon points="494.00,695.60 498.00,695.60 496.00,699.30" fill="#3f86d2"/>
<polygon points="497.50,696.70 501.50,696.70 499.50,700.40" fill="#3f86d2"/>
<polygon points="501.20,697.20 505.20,697.20 503.20,700.90" fill="#3f86d2"/>
<polygon points="504.50,696.20 508.50,696.20 506.50,699.90" fill="#3f86d2"/>
<polygon points="507.50,695.20 511.50,695.20 509.50,698.90" fill="#3f86d2"/>
<polygon points="497.50,701.40 501.50,701.40 499.50,705.10" fill="#3f86d2"/>
<polygon points="500.80,702.40 504.80,702.40 502.80,706.10" fill="#3f86d2"/>
<polygon points="504.50,701.40 508.50,701.40 506.50,705.10" fill="#3f86d2"/>
<polygon points="497.50,707.60 501.50,707.60 499.50,711.30" fill="#3f86d2"/>
<polygon points="504.50,706.20 508.50,706.20 506.50,709.90" fill="#3f86d2"/>
<line x1="493.70" y1="701.60" x2="510.70" y2="701.60" stroke="#333" stroke-width="1" stroke-linecap="butt"/>
<circle cx="524.20" cy="695.30" r="1.95" fill="#1a1a1a"/>
<circle cx="531.90" cy="697.10" r="1.95" fill="#1a1a1a"/>
<circle cx="527.90" cy="706.80" r="1.95" fill="#1a1a1a"/>
<circle cx="524.20" cy="717.20" r="1.95" fill="#1a1a1a"/>
<circle cx="531.90" cy="718.40" r="1.95" fill="#1a1a1a"/>
<circle cx="527.90" cy="727.60" r="1.95" fill="#1a1a1a"/>
<circle cx="527.90" cy="733.80" r="1.95" fill="#1a1a1a"/>
<circle cx="527.90" cy="750.30" r="1.95" fill="#1a1a1a"/>
<circle cx="527.90" cy="756.00" r="1.95" fill="#1a1a1a"/>
<circle cx="527.90" cy="760.50" r="1.95" fill="#1a1a1a"/>
<line x1="519.70" y1="723.10" x2="536.70" y2="723.10" stroke="#222" stroke-width="1.1" stroke-linecap="butt"/>
<line x1="567.40" y1="757.10" x2="585.30" y2="757.10" stroke="#333" stroke-width="1" stroke-linecap="butt"/>
<rect x="574.75" y="701.25" width="3.90" height="3.90" fill="#f7931e"/>
<rect x="574.75" y="717.95" width="3.90" height="3.90" fill="#f7931e"/>
<rect x="574.75" y="731.85" width="3.90" height="3.90" fill="#f7931e"/>
<rect x="574.75" y="745.85" width="3.90" height="3.90" fill="#f7931e"/>
<rect x="578.85" y="753.15" width="3.90" height="3.90" fill="#f7931e"/>
<rect x="570.85" y="756.75" width="3.90" height="3.90" fill="#f7931e"/>
<rect x="578.85" y="762.65" width="3.90" height="3.90" fill="#f7931e"/>
<rect x="570.85" y="765.35" width="3.90" height="3.90" fill="#f7931e"/>
<rect x="578.85" y="770.75" width="3.90" height="3.90" fill="#f7931e"/>
<rect x="570.85" y="772.55" width="3.90" height="3.90" fill="#f7931e"/>
<polygon points="600.30,734.40 604.30,734.40 602.30,738.10" fill="#3f86d2"/>
<polygon points="594.00,752.90 598.00,752.90 596.00,756.60" fill="#3f86d2"/>
<polygon points="598.50,753.90 602.50,753.90 600.50,757.60" fill="#3f86d2"/>
<polygon points="603.00,752.60 607.00,752.60 605.00,756.30" fill="#3f86d2"/>
<polygon points="607.00,754.90 611.00,754.90 609.00,758.60" fill="#3f86d2"/>
<polygon points="594.00,756.90 598.00,756.90 596.00,760.60" fill="#3f86d2"/>
<polygon points="603.00,756.60 607.00,756.60 605.00,760.30" fill="#3f86d2"/>
<polygon points="598.50,760.90 602.50,760.90 600.50,764.60" fill="#3f86d2"/>
<polygon points="603.00,763.90 607.00,763.90 605.00,767.60" fill="#3f86d2"/>
<polygon points="598.50,765.70 602.50,765.70 600.50,769.40" fill="#3f86d2"/>
<line x1="593.40" y1="757.10" x2="611.30" y2="757.10" stroke="#333" stroke-width="1" stroke-linecap="butt"/>
<circle cx="628.30" cy="697.80" r="1.95" fill="#1a1a1a"/>
<circle cx="628.30" cy="723.40" r="1.95" fill="#1a1a1a"/>
<circle cx="621.70" cy="752.80" r="1.95" fill="#1a1a1a"/>
<circle cx="628.30" cy="752.80" r="1.95" fill="#1a1a1a"/>
<circle cx="634.90" cy="755.70" r="1.95" fill="#1a1a1a"/>
<circle cx="621.70" cy="757.80" r="1.95" fill="#1a1a1a"/>
<circle cx="628.30" cy="762.30" r="1.95" fill="#1a1a1a"/>
<circle cx="624.70" cy="766.40" r="1.95" fill="#1a1a1a"/>
<circle cx="631.90" cy="769.10" r="1.95" fill="#1a1a1a"/>
<circle cx="628.30" cy="773.20" r="1.95" fill="#1a1a1a"/>
<line x1="620.20" y1="756.60" x2="636.30" y2="756.60" stroke="#222" stroke-width="1.1" stroke-linecap="butt"/>
</svg>
</body></html>
